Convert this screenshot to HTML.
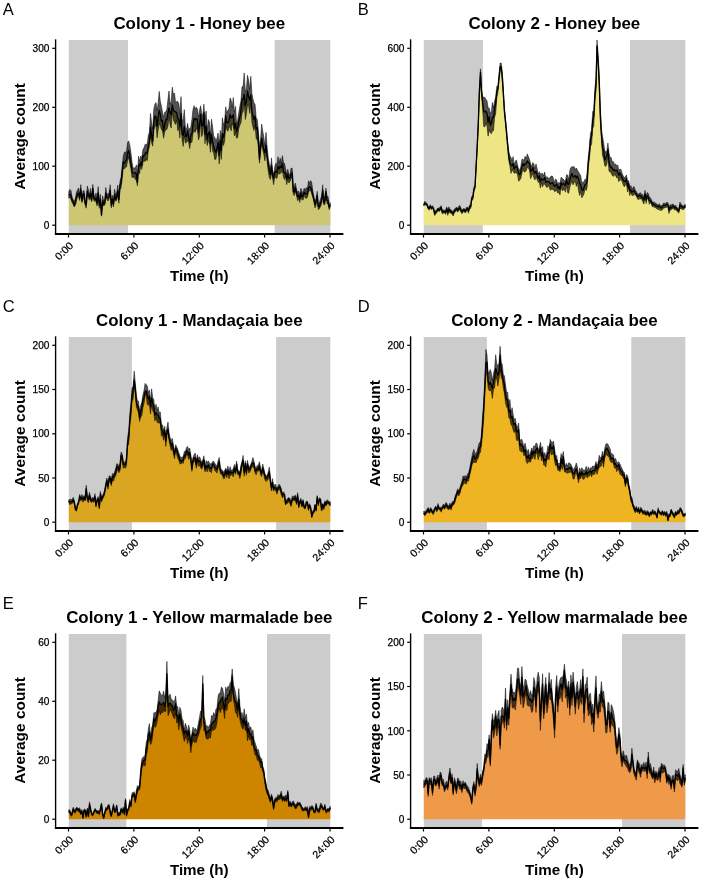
<!DOCTYPE html>
<html><head><meta charset="utf-8"><style>
html,body{margin:0;padding:0;background:#fff;}
body{width:702px;height:881px;overflow:hidden;}
svg{display:block;will-change:transform;}
text{font-family:"Liberation Sans",sans-serif;fill:#000;}
.tk{font-size:10.1px;fill:#000;stroke:#000;stroke-width:0.25px;}
.ti{font-size:16.9px;font-weight:bold;}
.ax{font-size:15.2px;font-weight:bold;}
.lb{font-size:16.5px;}
</style></head><body>
<svg width="702" height="881" viewBox="0 0 702 881">
<rect width="702" height="881" fill="#fff"/>
<rect x="68.8" y="40" width="59.2" height="193.3" fill="#cccccc"/>
<rect x="274.7" y="40" width="55.6" height="193.3" fill="#cccccc"/>
<polygon points="68.8,225.2 68.8,195 69.9,194.3 71,195.4 72.1,200.3 73.2,202 74.2,205.1 75.3,202.5 76.4,197.2 77.5,193.8 78.6,192.9 79.7,198.2 80.8,189.2 81.9,200.7 83,194.6 84.1,193.6 85.1,203 86.2,204.9 87.3,191.2 88.4,194.8 89.5,197.2 90.6,193.6 91.7,199.8 92.8,188.5 93.9,198.6 95,199.3 96,198.2 97.1,203.4 98.2,192.8 99.3,205.4 100.4,199.2 101.5,214.9 102.6,200.7 103.7,204.3 104.8,203.1 105.8,193.1 106.9,197.4 108,197.6 109.1,197 110.2,190.2 111.3,205.4 112.4,198.8 113.5,203.7 114.6,194.7 115.7,199.4 116.7,196.5 117.8,190.7 118.9,199.6 120,185 121.1,182.6 122.2,172.1 123.3,162.1 124.4,162.9 125.5,161.3 126.5,160.1 127.6,153.1 128.7,150.5 129.8,155.4 130.9,163 132,171.2 133.1,173.2 134.2,173.2 135.3,172.7 136.4,174.1 137.4,182.4 138.5,165 139.6,166.1 140.7,162.2 141.8,165.5 142.9,155.6 144,155.8 145.1,153.7 146.2,152.2 147.3,153.2 148.3,145.5 149.4,141.8 150.5,127.2 151.6,135.3 152.7,141.1 153.8,122.3 154.9,115.9 156,116.8 157.1,126.4 158.1,117.6 159.2,110.4 160.3,114 161.4,121.1 162.5,120.3 163.6,131.3 164.7,124.5 165.8,119.5 166.9,119.6 168,112.9 169,108 170.1,112.9 171.2,115 172.3,105 173.4,110.1 174.5,111.3 175.6,111.9 176.7,112.6 177.8,118.7 178.8,119 179.9,126.6 181,113.6 182.1,134.4 183.2,135.3 184.3,126.4 185.4,135.6 186.5,136.8 187.6,130.9 188.7,137.4 189.7,142.3 190.8,134.7 191.9,133.8 193,123.5 194.1,118.4 195.2,120 196.3,118.5 197.4,119.2 198.5,132.4 199.6,124.5 200.6,114.1 201.7,124.9 202.8,125.9 203.9,112.6 205,134.5 206.1,125.8 207.2,140 208.3,133.3 209.4,131.9 210.4,143.8 211.5,134.2 212.6,141.3 213.7,146.2 214.8,150.1 215.9,152.3 217,148.1 218.1,142.2 219.2,155.8 220.3,140.4 221.3,150.5 222.4,133.4 223.5,137.5 224.6,132.3 225.7,115.6 226.8,122.7 227.9,122.8 229,120.4 230.1,114.5 231.2,117.8 232.2,117.1 233.3,114.7 234.4,128.4 235.5,123.3 236.6,131.6 237.7,127.8 238.8,120.1 239.9,117.1 241,109.4 242,99.2 243.1,99.8 244.2,94.1 245.3,105.5 246.4,101 247.5,91.2 248.6,97.1 249.7,99.8 250.8,94.9 251.9,111.1 252.9,115.5 254,119.6 255.1,116.2 256.2,128.9 257.3,127.6 258.4,139.6 259.5,159.1 260.6,146.8 261.7,138.2 262.7,144.3 263.8,149.5 264.9,152.7 266,145.3 267.1,156 268.2,163.8 269.3,170.4 270.4,174.3 271.5,165.3 272.6,175.1 273.6,178.5 274.7,172.8 275.8,171.3 276.9,172.3 278,166.4 279.1,168.9 280.2,166.2 281.3,167.8 282.4,163.6 283.5,171.5 284.5,172.7 285.6,173.1 286.7,179.3 287.8,174.4 288.9,178.4 290,177.9 291.1,174.6 292.2,172.8 293.3,191.8 294.3,191.3 295.4,187.5 296.5,193 297.6,196.9 298.7,195.1 299.8,199 300.9,192.9 302,197 303.1,195.6 304.2,192.2 305.2,193.5 306.3,193.7 307.4,194.5 308.5,187.8 309.6,186.9 310.7,187.6 311.8,189.9 312.9,195.2 314,199.9 315,204.7 316.1,201.5 317.2,195.4 318.3,206.7 319.4,206.7 320.5,202.8 321.6,201.1 322.7,190.3 323.8,203 324.9,200.7 325.9,191.6 327,200.5 328.1,200.9 329.2,207.1 330.3,205 330.3,225.2" fill="#CDC673"/>
<polygon points="68.8,191.5 69.9,189.4 71,190.6 72.1,197 73.2,199.6 74.2,200.8 75.3,199.1 76.4,192.2 77.5,190.1 78.6,187.9 79.7,194.3 80.8,184.6 81.9,198.1 83,191 84.1,190.6 85.1,200 86.2,200.9 87.3,186 88.4,189.7 89.5,194.7 90.6,188.4 91.7,195.9 92.8,184.4 93.9,195.7 95,196.4 96,193 97.1,198.6 98.2,186.6 99.3,202.6 100.4,194.3 101.5,212.5 102.6,195.9 103.7,200.9 104.8,199.3 105.8,187.5 106.9,194.6 108,193.4 109.1,193.3 110.2,184.8 111.3,200.9 112.4,195.2 113.5,200.6 114.6,189.2 115.7,195 116.7,192.6 117.8,185.1 118.9,195.9 120,181.1 121.1,177.1 122.2,166.1 123.3,155.8 124.4,152.2 125.5,151.9 126.5,151.2 127.6,142.3 128.7,140.9 129.8,145.2 130.9,152.3 132,162.1 133.1,168.2 134.2,167.7 135.3,168.2 136.4,164.9 137.4,177.8 138.5,156.3 139.6,161 140.7,156 141.8,157.9 142.9,149.6 144,147.8 145.1,144.4 146.2,144.3 147.3,143.8 148.3,135.3 149.4,132.4 150.5,113.4 151.6,122.8 152.7,129.2 153.8,109.2 154.9,104.3 156,102.6 157.1,110.3 158.1,103.6 159.2,91.4 160.3,101.3 161.4,106.1 162.5,112.3 163.6,117.4 164.7,112.2 165.8,111.9 166.9,109.1 168,99.1 169,91 170.1,104.3 171.2,101.3 172.3,87.2 173.4,94.7 174.5,93 175.6,102.9 176.7,101.5 177.8,101.6 178.8,103.6 179.9,113.7 181,96.6 182.1,119.8 183.2,120.2 184.3,109.6 185.4,127.8 186.5,129.7 187.6,123.4 188.7,130.8 189.7,128.2 190.8,127.2 191.9,119.6 193,109.4 194.1,105.7 195.2,108.9 196.3,107.2 197.4,109 198.5,117.4 199.6,110.1 200.6,105.8 201.7,113.2 202.8,116 203.9,104.2 205,120 206.1,111.1 207.2,130.9 208.3,119.5 209.4,122.1 210.4,135.3 211.5,119.2 212.6,127 213.7,136.2 214.8,137.4 215.9,140.4 217,138.3 218.1,133 219.2,145.6 220.3,130.4 221.3,140.4 222.4,117.8 223.5,124.4 224.6,122.4 225.7,106.8 226.8,113.5 227.9,110.2 229,108.6 230.1,98 231.2,100.4 232.2,107.5 233.3,97.6 234.4,112.4 235.5,106.4 236.6,124.4 237.7,120.2 238.8,112.4 239.9,106.1 241,100.5 242,86.7 243.1,86.6 244.2,73 245.3,91.5 246.4,88.8 247.5,75.3 248.6,80.1 249.7,89.5 250.8,76.3 251.9,93.6 252.9,98.7 254,102.9 255.1,104.4 256.2,117.7 257.3,119.5 258.4,131.4 259.5,147.6 260.6,138.7 261.7,124 262.7,131.1 263.8,136.9 264.9,146.1 266,132.4 267.1,146.3 268.2,157.7 269.3,164.1 270.4,169.4 271.5,157.9 272.6,170.7 273.6,174 274.7,167.6 275.8,163.2 276.9,164.9 278,156.6 279.1,163.1 280.2,157.9 281.3,163.2 282.4,155.6 283.5,162.5 284.5,163.2 285.6,169 286.7,174.3 287.8,169.2 288.9,174.5 290,174.1 291.1,168 292.2,168.4 293.3,187.9 294.3,185.9 295.4,183.1 296.5,189.2 297.6,192.4 298.7,191.1 299.8,194.4 300.9,188.2 302,192.3 303.1,191.7 304.2,188.2 305.2,190.3 306.3,187.6 307.4,188.9 308.5,180.8 309.6,182.9 310.7,180.6 311.8,183.1 312.9,191.6 314,196.7 315,201.2 316.1,198.8 317.2,191.2 318.3,204.4 319.4,202.4 320.5,199.2 321.6,196 322.7,184.8 323.8,199.5 324.9,195.5 325.9,188.2 327,196.3 328.1,196.6 329.2,204.2 330.3,202.8 330.3,206.5 329.2,209.8 328.1,203.9 327,203.8 325.9,195 324.9,204.5 323.8,204.7 322.7,193.3 321.6,203.7 320.5,206.4 319.4,208.7 318.3,209.7 317.2,198.7 316.1,205.1 315,207.9 314,202.2 312.9,197.8 311.8,194.4 310.7,190.5 309.6,191.1 308.5,190.8 307.4,197.4 306.3,198.2 305.2,198 304.2,194.3 303.1,200 302,199.8 300.9,196.3 299.8,202.4 298.7,198.4 297.6,200.7 296.5,195.2 295.4,191.3 294.3,195.6 293.3,194.5 292.2,176.8 291.1,178.8 290,181.6 288.9,183 287.8,179.6 286.7,184.6 285.6,176.2 284.5,179.6 283.5,177.1 282.4,171.3 281.3,172.2 280.2,173.7 279.1,174 278,173.5 276.9,178.5 275.8,177.6 274.7,177.1 273.6,184.7 272.6,178.2 271.5,173 270.4,179.5 269.3,177.5 268.2,171.2 267.1,161 266,149.8 264.9,160.8 263.8,154.3 262.7,149.6 261.7,143.5 260.6,151.7 259.5,163.2 258.4,147.8 257.3,139 256.2,139.2 255.1,124.9 254,130.6 252.9,126.7 251.9,122.1 250.8,103.8 249.7,113.5 248.6,105.6 247.5,105 246.4,113.9 245.3,119.5 244.2,102.8 243.1,111.6 242,113.9 241,122.8 239.9,125 238.8,128.3 237.7,137.4 236.6,138.3 235.5,133.1 234.4,135.8 233.3,126 232.2,123.3 231.2,130.9 230.1,126.8 229,127.7 227.9,131.3 226.8,129.8 225.7,125.9 224.6,141.5 223.5,145.5 222.4,140.4 221.3,159.5 220.3,149.2 219.2,164 218.1,147.8 217,152.7 215.9,159.3 214.8,159.4 213.7,153.2 212.6,151.2 211.5,139.8 210.4,152.3 209.4,142.1 208.3,141.5 207.2,145.6 206.1,132.7 205,143.8 203.9,122.8 202.8,133.4 201.7,136.6 200.6,121.1 199.6,136.6 198.5,139.9 197.4,129.1 196.3,129 195.2,132.4 194.1,130.4 193,133.5 191.9,142.6 190.8,141.6 189.7,148.6 188.7,142.3 187.6,140.3 186.5,142.6 185.4,143 184.3,135.8 183.2,146.4 182.1,139.8 181,119.6 179.9,138 178.8,127.3 177.8,130.7 176.7,119.9 175.6,124.5 174.5,122.5 173.4,119.9 172.3,111.3 171.2,128 170.1,124.8 169,116.2 168,125.6 166.9,129.5 165.8,129.6 164.7,132.1 163.6,138.2 162.5,131.3 161.4,129.5 160.3,125.5 159.2,124 158.1,130.4 157.1,137.9 156,123.9 154.9,126.8 153.8,130.4 152.7,146.2 151.6,142.7 150.5,136.7 149.4,146.8 148.3,150.4 147.3,160.7 146.2,159.2 145.1,161.6 144,160.7 142.9,162.6 141.8,169.3 140.7,166.1 139.6,173.7 138.5,171 137.4,185.8 136.4,180 135.3,179.6 134.2,176.9 133.1,177.3 132,177.6 130.9,168.8 129.8,163.5 128.7,157.4 127.6,160.6 126.5,167 125.5,167.2 124.4,168.9 123.3,167.7 122.2,178.8 121.1,187.9 120,189.5 118.9,203.3 117.8,195.2 116.7,200.4 115.7,201.2 114.6,197.5 113.5,207 112.4,202.7 111.3,207.9 110.2,192.4 109.1,199.2 108,201.1 106.9,199.4 105.8,197.5 104.8,204.8 103.7,206.1 102.6,203 101.5,216.2 100.4,201.3 99.3,208.3 98.2,195.7 97.1,206.1 96,201.6 95,201.1 93.9,201 92.8,190.7 91.7,201.9 90.6,197.3 89.5,200.2 88.4,197.8 87.3,195.7 86.2,208.2 85.1,205.2 84.1,198 83,199 81.9,202.7 80.8,191.5 79.7,200.5 78.6,197.1 77.5,196.2 76.4,201.4 75.3,205.5 74.2,207 73.2,204.4 72.1,202.6 71,199.4 69.9,197.5 68.8,198.2" fill="#000" fill-opacity="0.68" stroke="#000" stroke-width="0.5"/>
<polyline points="68.8,195 69.9,194.3 71,195.4 72.1,200.3 73.2,202 74.2,205.1 75.3,202.5 76.4,197.2 77.5,193.8 78.6,192.9 79.7,198.2 80.8,189.2 81.9,200.7 83,194.6 84.1,193.6 85.1,203 86.2,204.9 87.3,191.2 88.4,194.8 89.5,197.2 90.6,193.6 91.7,199.8 92.8,188.5 93.9,198.6 95,199.3 96,198.2 97.1,203.4 98.2,192.8 99.3,205.4 100.4,199.2 101.5,214.9 102.6,200.7 103.7,204.3 104.8,203.1 105.8,193.1 106.9,197.4 108,197.6 109.1,197 110.2,190.2 111.3,205.4 112.4,198.8 113.5,203.7 114.6,194.7 115.7,199.4 116.7,196.5 117.8,190.7 118.9,199.6 120,185 121.1,182.6 122.2,172.1 123.3,162.1 124.4,162.9 125.5,161.3 126.5,160.1 127.6,153.1 128.7,150.5 129.8,155.4 130.9,163 132,171.2 133.1,173.2 134.2,173.2 135.3,172.7 136.4,174.1 137.4,182.4 138.5,165 139.6,166.1 140.7,162.2 141.8,165.5 142.9,155.6 144,155.8 145.1,153.7 146.2,152.2 147.3,153.2 148.3,145.5 149.4,141.8 150.5,127.2 151.6,135.3 152.7,141.1 153.8,122.3 154.9,115.9 156,116.8 157.1,126.4 158.1,117.6 159.2,110.4 160.3,114 161.4,121.1 162.5,120.3 163.6,131.3 164.7,124.5 165.8,119.5 166.9,119.6 168,112.9 169,108 170.1,112.9 171.2,115 172.3,105 173.4,110.1 174.5,111.3 175.6,111.9 176.7,112.6 177.8,118.7 178.8,119 179.9,126.6 181,113.6 182.1,134.4 183.2,135.3 184.3,126.4 185.4,135.6 186.5,136.8 187.6,130.9 188.7,137.4 189.7,142.3 190.8,134.7 191.9,133.8 193,123.5 194.1,118.4 195.2,120 196.3,118.5 197.4,119.2 198.5,132.4 199.6,124.5 200.6,114.1 201.7,124.9 202.8,125.9 203.9,112.6 205,134.5 206.1,125.8 207.2,140 208.3,133.3 209.4,131.9 210.4,143.8 211.5,134.2 212.6,141.3 213.7,146.2 214.8,150.1 215.9,152.3 217,148.1 218.1,142.2 219.2,155.8 220.3,140.4 221.3,150.5 222.4,133.4 223.5,137.5 224.6,132.3 225.7,115.6 226.8,122.7 227.9,122.8 229,120.4 230.1,114.5 231.2,117.8 232.2,117.1 233.3,114.7 234.4,128.4 235.5,123.3 236.6,131.6 237.7,127.8 238.8,120.1 239.9,117.1 241,109.4 242,99.2 243.1,99.8 244.2,94.1 245.3,105.5 246.4,101 247.5,91.2 248.6,97.1 249.7,99.8 250.8,94.9 251.9,111.1 252.9,115.5 254,119.6 255.1,116.2 256.2,128.9 257.3,127.6 258.4,139.6 259.5,159.1 260.6,146.8 261.7,138.2 262.7,144.3 263.8,149.5 264.9,152.7 266,145.3 267.1,156 268.2,163.8 269.3,170.4 270.4,174.3 271.5,165.3 272.6,175.1 273.6,178.5 274.7,172.8 275.8,171.3 276.9,172.3 278,166.4 279.1,168.9 280.2,166.2 281.3,167.8 282.4,163.6 283.5,171.5 284.5,172.7 285.6,173.1 286.7,179.3 287.8,174.4 288.9,178.4 290,177.9 291.1,174.6 292.2,172.8 293.3,191.8 294.3,191.3 295.4,187.5 296.5,193 297.6,196.9 298.7,195.1 299.8,199 300.9,192.9 302,197 303.1,195.6 304.2,192.2 305.2,193.5 306.3,193.7 307.4,194.5 308.5,187.8 309.6,186.9 310.7,187.6 311.8,189.9 312.9,195.2 314,199.9 315,204.7 316.1,201.5 317.2,195.4 318.3,206.7 319.4,206.7 320.5,202.8 321.6,201.1 322.7,190.3 323.8,203 324.9,200.7 325.9,191.6 327,200.5 328.1,200.9 329.2,207.1 330.3,205" fill="none" stroke="#000" stroke-width="1.3" stroke-linejoin="round"/>
<line x1="55.6" y1="39.3" x2="55.6" y2="234.7" stroke="#000" stroke-width="1.4"/>
<line x1="54.9" y1="234" x2="343.4" y2="234" stroke="#000" stroke-width="1.8"/>
<line x1="52.2" y1="225.2" x2="55.6" y2="225.2" stroke="#000" stroke-width="1.2"/>
<text x="49.4" y="228.9" text-anchor="end" class="tk">0</text>
<line x1="52.2" y1="166.2" x2="55.6" y2="166.2" stroke="#000" stroke-width="1.2"/>
<text x="49.4" y="169.9" text-anchor="end" class="tk">100</text>
<line x1="52.2" y1="107.3" x2="55.6" y2="107.3" stroke="#000" stroke-width="1.2"/>
<text x="49.4" y="111" text-anchor="end" class="tk">200</text>
<line x1="52.2" y1="48.3" x2="55.6" y2="48.3" stroke="#000" stroke-width="1.2"/>
<text x="49.4" y="52" text-anchor="end" class="tk">300</text>
<line x1="68.5" y1="234" x2="68.5" y2="237.5" stroke="#000" stroke-width="1.2"/>
<text transform="translate(73.8,246.3) rotate(-45)" text-anchor="end" class="tk" style="font-size:10.5px">0:00</text>
<line x1="133.9" y1="234" x2="133.9" y2="237.5" stroke="#000" stroke-width="1.2"/>
<text transform="translate(139.2,246.3) rotate(-45)" text-anchor="end" class="tk" style="font-size:10.5px">6:00</text>
<line x1="199.3" y1="234" x2="199.3" y2="237.5" stroke="#000" stroke-width="1.2"/>
<text transform="translate(204.6,246.3) rotate(-45)" text-anchor="end" class="tk" style="font-size:10.5px">12:00</text>
<line x1="264.6" y1="234" x2="264.6" y2="237.5" stroke="#000" stroke-width="1.2"/>
<text transform="translate(269.9,246.3) rotate(-45)" text-anchor="end" class="tk" style="font-size:10.5px">18:00</text>
<line x1="330" y1="234" x2="330" y2="237.5" stroke="#000" stroke-width="1.2"/>
<text transform="translate(335.3,246.3) rotate(-45)" text-anchor="end" class="tk" style="font-size:10.5px">24:00</text>
<text x="199.3" y="28.8" text-anchor="middle" class="ti">Colony 1 - Honey bee</text>
<text x="199.3" y="281.1" text-anchor="middle" class="ax">Time (h)</text>
<text transform="translate(25,136.4) rotate(-90)" text-anchor="middle" class="ax" style="font-size:15.45px">Average count</text>
<text x="2.8" y="14.7" class="lb">A</text>
<rect x="423.8" y="40" width="59.1" height="193.3" fill="#cccccc"/>
<rect x="630" y="40" width="55.3" height="193.3" fill="#cccccc"/>
<polygon points="423.8,225.2 423.8,205 424.9,203.2 426,204 427.1,204.6 428.2,207.9 429.2,208.5 430.3,206.1 431.4,208.6 432.5,206.9 433.6,209 434.7,213.8 435.8,211.8 436.9,210.9 438,208.9 439.1,210.5 440.1,208.9 441.2,207.5 442.3,212 443.4,211.9 444.5,211.3 445.6,212.6 446.7,208.3 447.8,213.2 448.9,209.2 450,211.4 451,211.4 452.1,212.4 453.2,213.7 454.3,211 455.4,209.8 456.5,208.5 457.6,210.6 458.7,208.7 459.8,207.8 460.8,210 461.9,211.7 463,210.4 464.1,209.5 465.2,211.7 466.3,209.8 467.4,208.6 468.5,210.9 469.6,206.5 470.7,206.9 471.7,198.3 472.8,197.8 473.9,189.7 475,187 476.1,166.8 477.2,147.1 478.3,123.5 479.4,91.8 480.5,72.3 481.5,92 482.6,101.8 483.7,111.1 484.8,112 485.9,111.3 487,113.3 488.1,122.5 489.2,116.7 490.3,125.1 491.4,123.1 492.4,117.1 493.5,117.5 494.6,108.6 495.7,102.7 496.8,91.5 497.9,89.2 499,78.1 500.1,67 501.2,66.5 502.3,76.6 503.3,92.4 504.4,110.8 505.5,121.5 506.6,133.2 507.7,145.5 508.8,156.6 509.9,162.1 511,165.1 512.1,165.3 513.1,163.7 514.2,168.9 515.3,166.6 516.4,166.1 517.5,168.3 518.6,173.2 519.7,174.7 520.8,172 521.9,166.1 523,163.5 524,166 525.1,163.9 526.2,163.8 527.3,160.9 528.4,162.6 529.5,163.3 530.6,171.5 531.7,170.5 532.8,167.4 533.8,171.4 534.9,173.1 536,171.4 537.1,174.8 538.2,178.4 539.3,175.6 540.4,181.6 541.5,178.7 542.6,179.9 543.7,179.8 544.7,177.4 545.8,182.2 546.9,181.8 548,181.2 549.1,182.1 550.2,184 551.3,183 552.4,182.5 553.5,184.4 554.6,186.4 555.6,185.1 556.7,183.8 557.8,188.5 558.9,186.5 560,189.4 561.1,182.5 562.2,184.9 563.3,183.7 564.4,184.2 565.4,185.4 566.5,179.1 567.6,184 568.7,184.3 569.8,179.6 570.9,176.1 572,173.5 573.1,177 574.2,176.5 575.3,175.6 576.3,178.2 577.4,175.9 578.5,178.9 579.6,183.2 580.7,185 581.8,189.7 582.9,190.5 584,187.4 585.1,184.5 586.2,183.8 587.2,180.2 588.3,162.4 589.4,153.1 590.5,139 591.6,135.9 592.7,120.2 593.8,115.8 594.9,96.6 596,85.2 597,46 598.1,60.5 599.2,81.5 600.3,114.3 601.4,133.7 602.5,147.4 603.6,150.9 604.7,160.1 605.8,158.2 606.9,155.5 607.9,149.3 609,162.1 610.1,166.9 611.2,167 612.3,168.4 613.4,170.4 614.5,169.9 615.6,170.9 616.7,170.1 617.7,172 618.8,175.2 619.9,173 621,175.3 622.1,177.9 623.2,179.8 624.3,181.4 625.4,181.5 626.5,178.6 627.6,186.8 628.6,183.1 629.7,190.9 630.8,190 631.9,192.3 633,191.3 634.1,190.7 635.2,193 636.3,193.6 637.4,196.3 638.5,196.6 639.5,195.2 640.6,196 641.7,197.2 642.8,198.1 643.9,200.2 645,193.8 646.1,200 647.2,195.8 648.3,196.9 649.3,200.6 650.4,200.6 651.5,202.1 652.6,204.9 653.7,204.1 654.8,205.1 655.9,205.8 657,206.3 658.1,207 659.2,206 660.2,207.2 661.3,207.9 662.4,206.9 663.5,205.4 664.6,205.7 665.7,205.4 666.8,204.1 667.9,204.8 669,210.6 670,207 671.1,208.1 672.2,206.9 673.3,206 674.4,207.7 675.5,207.4 676.6,208.8 677.7,209.7 678.8,211.1 679.9,205 680.9,206.5 682,206.8 683.1,207.9 684.2,207.4 685.3,206 685.3,225.2" fill="#EEE685"/>
<polygon points="423.8,204 424.9,201.2 426,202.8 427.1,203.5 428.2,206.8 429.2,206.8 430.3,204.7 431.4,206.7 432.5,205.8 433.6,208 434.7,211.6 435.8,210.7 436.9,209.5 438,207.9 439.1,208.4 440.1,206.8 441.2,205.7 442.3,210.7 443.4,209.8 444.5,210.2 445.6,210.9 446.7,206.9 447.8,210.8 448.9,206.8 450,209.2 451,209.8 452.1,210.6 453.2,211.9 454.3,209.1 455.4,208.4 456.5,207.1 457.6,208.5 458.7,206.4 459.8,205.3 460.8,207.8 461.9,209.7 463,209.2 464.1,208.3 465.2,210.4 466.3,207.6 467.4,207 468.5,209.1 469.6,205.1 470.7,205.4 471.7,196.6 472.8,195.7 473.9,187 475,185.7 476.1,165.2 477.2,144.3 478.3,120.9 479.4,88.2 480.5,68.9 481.5,88.8 482.6,96.1 483.7,97.5 484.8,97.2 485.9,99.3 487,100.7 488.1,108.2 489.2,107.9 490.3,113.4 491.4,111.5 492.4,102.4 493.5,108 494.6,100.7 495.7,96.8 496.8,86.3 497.9,86.6 499,74.8 500.1,63 501.2,63 502.3,72.7 503.3,89 504.4,106.9 505.5,118.5 506.6,129.5 507.7,141.8 508.8,151.3 509.9,155.7 511,157.4 512.1,160.9 513.1,156.6 514.2,165.3 515.3,161.2 516.4,159.9 517.5,164.7 518.6,169.5 519.7,170.1 520.8,166.9 521.9,159.4 523,159.2 524,160.7 525.1,156.3 526.2,158.9 527.3,153.9 528.4,156.5 529.5,159.6 530.6,163.7 531.7,166.7 532.8,162.5 533.8,163.8 534.9,168.7 536,163.9 537.1,168.6 538.2,174.2 539.3,171.7 540.4,174 541.5,173.5 542.6,173.5 543.7,176 544.7,172 545.8,178.6 546.9,176.5 548,178 549.1,178.7 550.2,177 551.3,176.1 552.4,176.1 553.5,179 554.6,182.6 555.6,178.9 556.7,179.9 557.8,185.2 558.9,182.2 560,184 561.1,177.1 562.2,178.5 563.3,179.1 564.4,180.6 565.4,182.3 566.5,174.7 567.6,175.1 568.7,179.6 569.8,170.5 570.9,167.5 572,166.8 573.1,166.8 574.2,166.8 575.3,169.8 576.3,168 577.4,169.9 578.5,171.9 579.6,173.7 580.7,175.6 581.8,182.2 582.9,182.6 584,181.6 585.1,179 586.2,179.7 587.2,171.9 588.3,157.1 589.4,147 590.5,133 591.6,130.3 592.7,111.4 593.8,110.9 594.9,87.6 596,78.1 597,40 598.1,53.9 599.2,73.8 600.3,106.5 601.4,128.4 602.5,136.5 603.6,142.4 604.7,150 605.8,152.6 606.9,150.8 607.9,143 609,153 610.1,157.7 611.2,157.5 612.3,162.1 613.4,161.5 614.5,164.8 615.6,163.9 616.7,166 617.7,164.9 618.8,170 619.9,169.3 621,169.4 622.1,173.3 623.2,175.8 624.3,177.6 625.4,176.7 626.5,175 627.6,181.9 628.6,180.5 629.7,187.6 630.8,185.5 631.9,188.7 633,187.4 634.1,186.6 635.2,189.8 636.3,191.5 637.4,193.7 638.5,194.2 639.5,193 640.6,192.8 641.7,195 642.8,194.4 643.9,197.5 645,190.3 646.1,196.5 647.2,192.6 648.3,193.4 649.3,197.3 650.4,197.7 651.5,199.8 652.6,202.4 653.7,201.9 654.8,202.5 655.9,203.4 657,204.1 658.1,205.3 659.2,203.7 660.2,205.4 661.3,205.7 662.4,205.2 663.5,203.1 664.6,203.2 665.7,203.8 666.8,202.2 667.9,202.6 669,208.7 670,204.6 671.1,205.3 672.2,204.1 673.3,204.3 674.4,206 675.5,205.1 676.6,206.9 677.7,208.3 678.8,209.4 679.9,202.1 680.9,203.7 682,205 683.1,206.6 684.2,204.9 685.3,204.4 685.3,207.6 684.2,208.8 683.1,210 682,208.9 680.9,209 679.9,207.9 678.8,213.1 677.7,212 676.6,210.7 675.5,209.8 674.4,209.9 673.3,208.2 672.2,208.9 671.1,209.9 670,209.8 669,213.5 667.9,206.6 666.8,207.3 665.7,207.4 664.6,207.9 663.5,208 662.4,209.9 661.3,210.2 660.2,210.6 659.2,209.5 658.1,209.4 657,209.1 655.9,207.8 654.8,207.6 653.7,206.7 652.6,207 651.5,204.6 650.4,202.2 649.3,204.3 648.3,199.6 647.2,198.6 646.1,203.5 645,196.3 643.9,204.1 642.8,201.8 641.7,199 640.6,198.9 639.5,198.7 638.5,199.9 637.4,198.8 636.3,196 635.2,195.1 634.1,194.5 633,195.5 631.9,195.4 630.8,192.4 629.7,195.6 628.6,187.3 627.6,192.1 626.5,183.6 625.4,185 624.3,186.8 623.2,184.7 622.1,181.6 621,179.6 619.9,180.1 618.8,181.7 617.7,177 616.7,177.9 615.6,175.5 614.5,174.8 613.4,176.5 612.3,175.5 611.2,173.2 610.1,171.7 609,171.3 607.9,156.5 606.9,163.9 605.8,166.4 604.7,165.6 603.6,158.6 602.5,155.5 601.4,138.5 600.3,121.5 599.2,85.1 598.1,66.9 597,46.7 596,89.7 594.9,101 593.8,126.1 592.7,128.4 591.6,144.3 590.5,146.4 589.4,158.7 588.3,167.2 587.2,187 586.2,190.5 585.1,188.3 584,193.9 582.9,195.9 581.8,197.9 580.7,191.6 579.6,195.5 578.5,190.4 577.4,182.6 576.3,186.5 575.3,181.2 574.2,182.2 573.1,184.9 572,181.8 570.9,183.7 569.8,187.2 568.7,193.2 567.6,192.6 566.5,185.2 565.4,192.2 564.4,189.1 563.3,190.2 562.2,190.7 561.1,186.3 560,194.9 558.9,192.4 557.8,193.1 556.7,190.7 555.6,190.9 554.6,191.7 553.5,189.6 552.4,189.4 551.3,189.4 550.2,190.2 549.1,185.8 548,186.6 546.9,187.7 545.8,186 544.7,184.2 543.7,183.8 542.6,186.9 541.5,182.8 540.4,188.1 539.3,182 538.2,182.3 537.1,179.6 536,176.7 534.9,180 533.8,177.8 532.8,173.3 531.7,175.9 530.6,178.7 529.5,170.5 528.4,167.8 527.3,167.5 526.2,170.7 525.1,171.9 524,171.9 523,168.1 521.9,173.7 520.8,178.5 519.7,180.2 518.6,181.2 517.5,174.4 516.4,172.7 515.3,172.9 514.2,173.3 513.1,171.3 512.1,169.7 511,173.5 509.9,166.3 508.8,160.7 507.7,147.8 506.6,135.9 505.5,124 504.4,113 503.3,95.2 502.3,81.5 501.2,69.9 500.1,71.5 499,80.6 497.9,92.6 496.8,98.4 495.7,113.9 494.6,117.2 493.5,130.7 492.4,131 491.4,133.7 490.3,132.8 489.2,129.7 488.1,136.2 487,126 485.9,123 484.8,126.9 483.7,126.4 482.6,108.7 481.5,95.2 480.5,75.8 479.4,93.6 478.3,125.8 477.2,148.4 476.1,169.2 475,188.4 473.9,191.6 472.8,200 471.7,200.4 470.7,208.4 469.6,208.9 468.5,213.3 467.4,210.1 466.3,211.6 465.2,213.1 464.1,211.3 463,212.4 461.9,213.8 460.8,211.9 459.8,209.5 458.7,210.9 457.6,212.2 456.5,209.8 455.4,212.1 454.3,212.8 453.2,216.1 452.1,214.4 451,213 450,213.2 448.9,211.3 447.8,215.4 446.7,209.4 445.6,214.5 444.5,212.9 443.4,213.1 442.3,214 441.2,209.4 440.1,210.8 439.1,211.6 438,210.6 436.9,212.5 435.8,213.9 434.7,215.5 433.6,210.7 432.5,208.3 431.4,209.6 430.3,207.2 429.2,210.3 428.2,209 427.1,206.6 426,205.1 424.9,204.4 423.8,206" fill="#000" fill-opacity="0.68" stroke="#000" stroke-width="0.5"/>
<polyline points="423.8,205 424.9,203.2 426,204 427.1,204.6 428.2,207.9 429.2,208.5 430.3,206.1 431.4,208.6 432.5,206.9 433.6,209 434.7,213.8 435.8,211.8 436.9,210.9 438,208.9 439.1,210.5 440.1,208.9 441.2,207.5 442.3,212 443.4,211.9 444.5,211.3 445.6,212.6 446.7,208.3 447.8,213.2 448.9,209.2 450,211.4 451,211.4 452.1,212.4 453.2,213.7 454.3,211 455.4,209.8 456.5,208.5 457.6,210.6 458.7,208.7 459.8,207.8 460.8,210 461.9,211.7 463,210.4 464.1,209.5 465.2,211.7 466.3,209.8 467.4,208.6 468.5,210.9 469.6,206.5 470.7,206.9 471.7,198.3 472.8,197.8 473.9,189.7 475,187 476.1,166.8 477.2,147.1 478.3,123.5 479.4,91.8 480.5,72.3 481.5,92 482.6,101.8 483.7,111.1 484.8,112 485.9,111.3 487,113.3 488.1,122.5 489.2,116.7 490.3,125.1 491.4,123.1 492.4,117.1 493.5,117.5 494.6,108.6 495.7,102.7 496.8,91.5 497.9,89.2 499,78.1 500.1,67 501.2,66.5 502.3,76.6 503.3,92.4 504.4,110.8 505.5,121.5 506.6,133.2 507.7,145.5 508.8,156.6 509.9,162.1 511,165.1 512.1,165.3 513.1,163.7 514.2,168.9 515.3,166.6 516.4,166.1 517.5,168.3 518.6,173.2 519.7,174.7 520.8,172 521.9,166.1 523,163.5 524,166 525.1,163.9 526.2,163.8 527.3,160.9 528.4,162.6 529.5,163.3 530.6,171.5 531.7,170.5 532.8,167.4 533.8,171.4 534.9,173.1 536,171.4 537.1,174.8 538.2,178.4 539.3,175.6 540.4,181.6 541.5,178.7 542.6,179.9 543.7,179.8 544.7,177.4 545.8,182.2 546.9,181.8 548,181.2 549.1,182.1 550.2,184 551.3,183 552.4,182.5 553.5,184.4 554.6,186.4 555.6,185.1 556.7,183.8 557.8,188.5 558.9,186.5 560,189.4 561.1,182.5 562.2,184.9 563.3,183.7 564.4,184.2 565.4,185.4 566.5,179.1 567.6,184 568.7,184.3 569.8,179.6 570.9,176.1 572,173.5 573.1,177 574.2,176.5 575.3,175.6 576.3,178.2 577.4,175.9 578.5,178.9 579.6,183.2 580.7,185 581.8,189.7 582.9,190.5 584,187.4 585.1,184.5 586.2,183.8 587.2,180.2 588.3,162.4 589.4,153.1 590.5,139 591.6,135.9 592.7,120.2 593.8,115.8 594.9,96.6 596,85.2 597,46 598.1,60.5 599.2,81.5 600.3,114.3 601.4,133.7 602.5,147.4 603.6,150.9 604.7,160.1 605.8,158.2 606.9,155.5 607.9,149.3 609,162.1 610.1,166.9 611.2,167 612.3,168.4 613.4,170.4 614.5,169.9 615.6,170.9 616.7,170.1 617.7,172 618.8,175.2 619.9,173 621,175.3 622.1,177.9 623.2,179.8 624.3,181.4 625.4,181.5 626.5,178.6 627.6,186.8 628.6,183.1 629.7,190.9 630.8,190 631.9,192.3 633,191.3 634.1,190.7 635.2,193 636.3,193.6 637.4,196.3 638.5,196.6 639.5,195.2 640.6,196 641.7,197.2 642.8,198.1 643.9,200.2 645,193.8 646.1,200 647.2,195.8 648.3,196.9 649.3,200.6 650.4,200.6 651.5,202.1 652.6,204.9 653.7,204.1 654.8,205.1 655.9,205.8 657,206.3 658.1,207 659.2,206 660.2,207.2 661.3,207.9 662.4,206.9 663.5,205.4 664.6,205.7 665.7,205.4 666.8,204.1 667.9,204.8 669,210.6 670,207 671.1,208.1 672.2,206.9 673.3,206 674.4,207.7 675.5,207.4 676.6,208.8 677.7,209.7 678.8,211.1 679.9,205 680.9,206.5 682,206.8 683.1,207.9 684.2,207.4 685.3,206" fill="none" stroke="#000" stroke-width="1.3" stroke-linejoin="round"/>
<line x1="410.6" y1="39.3" x2="410.6" y2="234.7" stroke="#000" stroke-width="1.4"/>
<line x1="409.9" y1="234" x2="698.4" y2="234" stroke="#000" stroke-width="1.8"/>
<line x1="407.2" y1="225.2" x2="410.6" y2="225.2" stroke="#000" stroke-width="1.2"/>
<text x="404.4" y="228.9" text-anchor="end" class="tk">0</text>
<line x1="407.2" y1="166.2" x2="410.6" y2="166.2" stroke="#000" stroke-width="1.2"/>
<text x="404.4" y="169.9" text-anchor="end" class="tk">200</text>
<line x1="407.2" y1="107.3" x2="410.6" y2="107.3" stroke="#000" stroke-width="1.2"/>
<text x="404.4" y="111" text-anchor="end" class="tk">400</text>
<line x1="407.2" y1="48.3" x2="410.6" y2="48.3" stroke="#000" stroke-width="1.2"/>
<text x="404.4" y="52" text-anchor="end" class="tk">600</text>
<line x1="423.5" y1="234" x2="423.5" y2="237.5" stroke="#000" stroke-width="1.2"/>
<text transform="translate(428.8,246.3) rotate(-45)" text-anchor="end" class="tk" style="font-size:10.5px">0:00</text>
<line x1="488.9" y1="234" x2="488.9" y2="237.5" stroke="#000" stroke-width="1.2"/>
<text transform="translate(494.2,246.3) rotate(-45)" text-anchor="end" class="tk" style="font-size:10.5px">6:00</text>
<line x1="554.3" y1="234" x2="554.3" y2="237.5" stroke="#000" stroke-width="1.2"/>
<text transform="translate(559.6,246.3) rotate(-45)" text-anchor="end" class="tk" style="font-size:10.5px">12:00</text>
<line x1="619.6" y1="234" x2="619.6" y2="237.5" stroke="#000" stroke-width="1.2"/>
<text transform="translate(624.9,246.3) rotate(-45)" text-anchor="end" class="tk" style="font-size:10.5px">18:00</text>
<line x1="685" y1="234" x2="685" y2="237.5" stroke="#000" stroke-width="1.2"/>
<text transform="translate(690.3,246.3) rotate(-45)" text-anchor="end" class="tk" style="font-size:10.5px">24:00</text>
<text x="554.4" y="28.8" text-anchor="middle" class="ti">Colony 2 - Honey bee</text>
<text x="554.4" y="281.1" text-anchor="middle" class="ax">Time (h)</text>
<text transform="translate(380,136.4) rotate(-90)" text-anchor="middle" class="ax" style="font-size:15.45px">Average count</text>
<text x="357.8" y="14.7" class="lb">B</text>
<rect x="68.8" y="337" width="63.1" height="193.3" fill="#cccccc"/>
<rect x="276.1" y="337" width="54.2" height="193.3" fill="#cccccc"/>
<polygon points="68.8,522.2 68.8,501 69.9,502.2 71,501.9 72.1,501.4 73.2,499.6 74.2,501.8 75.3,508.1 76.4,510 77.5,504.7 78.6,502.5 79.7,496.5 80.8,499.2 81.9,497.2 83,499.3 84.1,497.5 85.1,499.7 86.2,488.7 87.3,498 88.4,500 89.5,495.1 90.6,499.5 91.7,500.5 92.8,499.7 93.9,499.9 95,496.5 96,505.4 97.1,500.1 98.2,498.8 99.3,507.4 100.4,493.8 101.5,499.9 102.6,496.6 103.7,495.1 104.8,490.9 105.8,485.6 106.9,480.5 108,486.7 109.1,478.6 110.2,478 111.3,483.4 112.4,476.7 113.5,477.1 114.6,474.7 115.7,472.5 116.7,467.5 117.8,466.4 118.9,470.1 120,467.4 121.1,455.2 122.2,456.5 123.3,464.3 124.4,464.4 125.5,465 126.5,459.9 127.6,443 128.7,437.9 129.8,421.4 130.9,409.5 132,395.8 133.1,390.7 134.2,380.2 135.3,388.8 136.4,402.5 137.4,406.1 138.5,407.1 139.6,417.8 140.7,412.1 141.8,407.6 142.9,399.9 144,397.5 145.1,391.8 146.2,390.9 147.3,395.2 148.3,398.9 149.4,396.2 150.5,406.5 151.6,397.8 152.7,403.1 153.8,406.2 154.9,415.1 156,412.4 157.1,414.4 158.1,414.8 159.2,417.7 160.3,418.9 161.4,429.3 162.5,430.9 163.6,434.5 164.7,430.1 165.8,441.3 166.9,431.1 168,429 169,437.4 170.1,441.5 171.2,446.2 172.3,443 173.4,449.6 174.5,454.7 175.6,448 176.7,449.8 177.8,453.4 178.8,456.4 179.9,460 181,461.5 182.1,460.2 183.2,460.5 184.3,454.9 185.4,456 186.5,450.5 187.6,451.5 188.7,455.3 189.7,452.4 190.8,458.1 191.9,468.9 193,460 194.1,457.6 195.2,457.9 196.3,464.9 197.4,458.2 198.5,461.3 199.6,460.9 200.6,462.7 201.7,466.8 202.8,462.3 203.9,459.7 205,469.1 206.1,465.5 207.2,467.3 208.3,464.7 209.4,467 210.4,468.3 211.5,468.4 212.6,463.9 213.7,464.4 214.8,467.5 215.9,467.7 217,469.3 218.1,465.7 219.2,461.1 220.3,470.4 221.3,472.2 222.4,472.4 223.5,476.3 224.6,474.4 225.7,470.5 226.8,474.4 227.9,470.5 229,474.3 230.1,471.1 231.2,472.5 232.2,472.5 233.3,472.7 234.4,468 235.5,472.2 236.6,464 237.7,472.1 238.8,472.8 239.9,475.1 241,468.5 242,463.9 243.1,459.9 244.2,472.7 245.3,463.4 246.4,472.4 247.5,463.6 248.6,469.1 249.7,469.7 250.8,466.8 251.9,463.9 252.9,462.6 254,463.6 255.1,471 256.2,470.4 257.3,468.2 258.4,469.2 259.5,465.3 260.6,471.3 261.7,473.1 262.7,467.7 263.8,471.7 264.9,475.8 266,478.4 267.1,478 268.2,475.3 269.3,471.7 270.4,480.9 271.5,488.2 272.6,482.3 273.6,489 274.7,487.3 275.8,487.8 276.9,491.2 278,488.6 279.1,486.8 280.2,487.5 281.3,492.2 282.4,495 283.5,494.2 284.5,494.8 285.6,503.8 286.7,501.4 287.8,500.8 288.9,498.7 290,501 291.1,504.5 292.2,498.8 293.3,498.6 294.3,498.9 295.4,496.8 296.5,503 297.6,495.1 298.7,506.1 299.8,501.8 300.9,500.5 302,505.8 303.1,501.2 304.2,507.3 305.2,507.7 306.3,502.8 307.4,502.5 308.5,508.7 309.6,505.1 310.7,508.1 311.8,516.7 312.9,512.1 314,511.6 315,505.3 316.1,510.2 317.2,497.1 318.3,503.7 319.4,499.4 320.5,499.8 321.6,510 322.7,504.7 323.8,507.8 324.9,502.5 325.9,504.6 327,502.1 328.1,502 329.2,503.6 330.3,504 330.3,522.2" fill="#DAA520"/>
<polygon points="68.8,499.8 69.9,499.6 71,499.4 72.1,499.9 73.2,497.2 74.2,500.5 75.3,506.3 76.4,508.7 77.5,503.6 78.6,500.9 79.7,494.3 80.8,497.9 81.9,494.5 83,497.4 84.1,495.4 85.1,496.9 86.2,485.3 87.3,495.6 88.4,497.6 89.5,492.3 90.6,497.3 91.7,498.4 92.8,497.1 93.9,498.5 95,493.6 96,504 97.1,498.5 98.2,496.6 99.3,505.6 100.4,491.4 101.5,497.3 102.6,495.3 103.7,493.5 104.8,489.1 105.8,482.9 106.9,478 108,483.8 109.1,475.8 110.2,476.1 111.3,480 112.4,473.6 113.5,474.3 114.6,472.1 115.7,468.3 116.7,463.7 117.8,464 118.9,467 120,462.6 121.1,451.9 122.2,453.8 123.3,461.9 124.4,462 125.5,462.7 126.5,456.2 127.6,437 128.7,431.3 129.8,414 130.9,404 132,388.1 133.1,386.2 134.2,371.2 135.3,383 136.4,395.3 137.4,400.9 138.5,401 139.6,412.2 140.7,405.6 141.8,402.3 142.9,395 144,390.5 145.1,383.4 146.2,384.6 147.3,386 148.3,392.7 149.4,390.1 150.5,400.9 151.6,388.8 152.7,397.7 153.8,399.4 154.9,409.2 156,404.2 157.1,410.7 158.1,406.8 159.2,412.7 160.3,411.9 161.4,425.3 162.5,424.9 163.6,430.2 164.7,426.3 165.8,437.8 166.9,427.3 168,422.1 169,432.7 170.1,437.5 171.2,440.7 172.3,438.3 173.4,444.8 174.5,451.4 175.6,444.7 176.7,446.8 177.8,449.8 178.8,452.7 179.9,455.8 181,458.1 182.1,456.7 183.2,457.7 184.3,451.2 185.4,451.9 186.5,447.5 187.6,446.4 188.7,449.9 189.7,448 190.8,454.8 191.9,464.2 193,457.4 194.1,454.7 195.2,453.1 196.3,460.4 197.4,454.7 198.5,458.8 199.6,456.7 200.6,459.5 201.7,462.3 202.8,459.9 203.9,455.8 205,466.7 206.1,460.6 207.2,462.5 208.3,460.9 209.4,463 210.4,463.8 211.5,463.8 212.6,461.4 213.7,461.3 214.8,463.2 215.9,464.8 217,466.1 218.1,460.8 219.2,457.4 220.3,466.9 221.3,469.6 222.4,470.1 223.5,472.3 224.6,470.6 225.7,468.2 226.8,470.2 227.9,466.1 229,471.6 230.1,466.7 231.2,470.2 232.2,469.9 233.3,468.5 234.4,464.5 235.5,469.2 236.6,461 237.7,469.6 238.8,470.4 239.9,472.1 241,465.1 242,461.4 243.1,455.4 244.2,470.6 245.3,460.8 246.4,468.1 247.5,460.3 248.6,466.7 249.7,466.6 250.8,464.2 251.9,461.3 252.9,457.5 254,461.2 255.1,467 256.2,467.2 257.3,465.5 258.4,464.7 259.5,461.7 260.6,469.2 261.7,470.2 262.7,464 263.8,468.6 264.9,473.2 266,475.8 267.1,475.5 268.2,472.3 269.3,467.1 270.4,477.1 271.5,485.6 272.6,478.6 273.6,487.2 274.7,484.5 275.8,484.6 276.9,489.3 278,486 279.1,484.2 280.2,485.7 281.3,489 282.4,493 283.5,491.8 284.5,493.4 285.6,502 286.7,499.6 287.8,498.2 288.9,497.4 290,498.5 291.1,503.2 292.2,496.2 293.3,496.1 294.3,496.7 295.4,494.9 296.5,501.2 297.6,492.6 298.7,504.5 299.8,500.5 300.9,498.2 302,503.8 303.1,499.6 304.2,506 305.2,505.5 306.3,501.1 307.4,501.3 308.5,506.6 309.6,503.7 310.7,506.6 311.8,515.4 312.9,510.7 314,510.4 315,504 316.1,508.6 317.2,495.6 318.3,501.3 319.4,497.8 320.5,498.4 321.6,508.9 322.7,503.4 323.8,505.6 324.9,500.8 325.9,502.5 327,499.7 328.1,500.7 329.2,501.6 330.3,501.7 330.3,506 329.2,504.8 328.1,503.2 327,504 325.9,506.2 324.9,503.7 323.8,509.7 322.7,507 321.6,511 320.5,501.6 319.4,501.5 318.3,506 317.2,498.8 316.1,511.3 315,507.3 314,512.6 312.9,514.1 311.8,517.7 310.7,510.2 309.6,506.8 308.5,510.6 307.4,504.1 306.3,504.6 305.2,509 304.2,508.7 303.1,503 302,507 300.9,502.5 299.8,504.4 298.7,508 297.6,497.3 296.5,504.6 295.4,498.9 294.3,501 293.3,500.2 292.2,501.3 291.1,506.5 290,503.7 288.9,500.8 287.8,503.3 286.7,503.1 285.6,505 284.5,497.6 283.5,495.9 282.4,497.9 281.3,494.7 280.2,490.5 279.1,489.4 278,490.8 276.9,494.2 275.8,490.7 274.7,489.3 273.6,491.2 272.6,486.2 271.5,491 270.4,483.4 269.3,473.9 268.2,479.4 267.1,480.3 266,481.6 264.9,479.7 263.8,474.7 262.7,471.6 261.7,476.5 260.6,475 259.5,468.8 258.4,471.3 257.3,470.9 256.2,474.8 255.1,473.3 254,467.2 252.9,467.3 251.9,466.4 250.8,469.7 249.7,472.3 248.6,472.7 247.5,466.8 246.4,475.2 245.3,468.1 244.2,476.3 243.1,464.8 242,466.6 241,473.2 239.9,478.5 238.8,474.9 237.7,474.5 236.6,467.9 235.5,474.4 234.4,470.9 233.3,476.9 232.2,475 231.2,474.9 230.1,475.4 229,478.7 227.9,472.9 226.8,477.7 225.7,473.3 224.6,478.5 223.5,478.8 222.4,474.7 221.3,474.6 220.3,473.5 219.2,465.2 218.1,468.7 217,473.1 215.9,471.4 214.8,470.7 213.7,466.7 212.6,466.1 211.5,472.8 210.4,471.4 209.4,471.4 208.3,466.9 207.2,471.9 206.1,467.7 205,472 203.9,463.5 202.8,466.5 201.7,469.3 200.6,467.6 199.6,465.2 198.5,466.3 197.4,461.7 196.3,468.2 195.2,461.9 194.1,461.3 193,463.3 191.9,471.4 190.8,462 189.7,457.3 188.7,459.4 187.6,455.6 186.5,454.2 185.4,458.8 184.3,458.7 183.2,463.5 182.1,462.5 181,464.1 179.9,463.7 178.8,460.1 177.8,458.4 176.7,454.6 175.6,451 174.5,458.7 173.4,453.7 172.3,447.4 171.2,450.5 170.1,445.4 169,440.3 168,432.3 166.9,435.4 165.8,446.3 164.7,434.2 163.6,440.3 162.5,435.1 161.4,436.2 160.3,423.2 159.2,422.9 158.1,422.9 157.1,422.1 156,418.1 154.9,420.9 153.8,412.7 152.7,410.7 151.6,405 150.5,413.9 149.4,403.4 148.3,405.2 147.3,404.6 146.2,395.3 145.1,396 144,403.6 142.9,407.5 141.8,415.6 140.7,417 139.6,421.4 138.5,412.7 137.4,409.9 136.4,406.8 135.3,394 134.2,386 133.1,398.7 132,401.8 130.9,417.1 129.8,424.9 128.7,444.2 127.6,446 126.5,465.1 125.5,468.2 124.4,467.2 123.3,468.4 122.2,460.2 121.1,460.1 120,471 118.9,472.8 117.8,469.8 116.7,471.5 115.7,475.9 114.6,477.5 113.5,481.2 112.4,479.7 111.3,485.6 110.2,481.9 109.1,480.8 108,489.3 106.9,482.9 105.8,487.7 104.8,493.8 103.7,497.1 102.6,499.1 101.5,502.1 100.4,496.9 99.3,508.8 98.2,500.4 97.1,501.3 96,507.1 95,498.8 93.9,502.6 92.8,500.9 91.7,502.6 90.6,501.9 89.5,497.9 88.4,502.7 87.3,500.9 86.2,491.5 85.1,501 84.1,499.1 83,502.2 81.9,499.8 80.8,500.8 79.7,498.4 78.6,503.7 77.5,506.6 76.4,511.2 75.3,510.3 74.2,503.2 73.2,502.4 72.1,503.4 71,503.9 69.9,504.7 68.8,502.5" fill="#000" fill-opacity="0.68" stroke="#000" stroke-width="0.5"/>
<polyline points="68.8,501 69.9,502.2 71,501.9 72.1,501.4 73.2,499.6 74.2,501.8 75.3,508.1 76.4,510 77.5,504.7 78.6,502.5 79.7,496.5 80.8,499.2 81.9,497.2 83,499.3 84.1,497.5 85.1,499.7 86.2,488.7 87.3,498 88.4,500 89.5,495.1 90.6,499.5 91.7,500.5 92.8,499.7 93.9,499.9 95,496.5 96,505.4 97.1,500.1 98.2,498.8 99.3,507.4 100.4,493.8 101.5,499.9 102.6,496.6 103.7,495.1 104.8,490.9 105.8,485.6 106.9,480.5 108,486.7 109.1,478.6 110.2,478 111.3,483.4 112.4,476.7 113.5,477.1 114.6,474.7 115.7,472.5 116.7,467.5 117.8,466.4 118.9,470.1 120,467.4 121.1,455.2 122.2,456.5 123.3,464.3 124.4,464.4 125.5,465 126.5,459.9 127.6,443 128.7,437.9 129.8,421.4 130.9,409.5 132,395.8 133.1,390.7 134.2,380.2 135.3,388.8 136.4,402.5 137.4,406.1 138.5,407.1 139.6,417.8 140.7,412.1 141.8,407.6 142.9,399.9 144,397.5 145.1,391.8 146.2,390.9 147.3,395.2 148.3,398.9 149.4,396.2 150.5,406.5 151.6,397.8 152.7,403.1 153.8,406.2 154.9,415.1 156,412.4 157.1,414.4 158.1,414.8 159.2,417.7 160.3,418.9 161.4,429.3 162.5,430.9 163.6,434.5 164.7,430.1 165.8,441.3 166.9,431.1 168,429 169,437.4 170.1,441.5 171.2,446.2 172.3,443 173.4,449.6 174.5,454.7 175.6,448 176.7,449.8 177.8,453.4 178.8,456.4 179.9,460 181,461.5 182.1,460.2 183.2,460.5 184.3,454.9 185.4,456 186.5,450.5 187.6,451.5 188.7,455.3 189.7,452.4 190.8,458.1 191.9,468.9 193,460 194.1,457.6 195.2,457.9 196.3,464.9 197.4,458.2 198.5,461.3 199.6,460.9 200.6,462.7 201.7,466.8 202.8,462.3 203.9,459.7 205,469.1 206.1,465.5 207.2,467.3 208.3,464.7 209.4,467 210.4,468.3 211.5,468.4 212.6,463.9 213.7,464.4 214.8,467.5 215.9,467.7 217,469.3 218.1,465.7 219.2,461.1 220.3,470.4 221.3,472.2 222.4,472.4 223.5,476.3 224.6,474.4 225.7,470.5 226.8,474.4 227.9,470.5 229,474.3 230.1,471.1 231.2,472.5 232.2,472.5 233.3,472.7 234.4,468 235.5,472.2 236.6,464 237.7,472.1 238.8,472.8 239.9,475.1 241,468.5 242,463.9 243.1,459.9 244.2,472.7 245.3,463.4 246.4,472.4 247.5,463.6 248.6,469.1 249.7,469.7 250.8,466.8 251.9,463.9 252.9,462.6 254,463.6 255.1,471 256.2,470.4 257.3,468.2 258.4,469.2 259.5,465.3 260.6,471.3 261.7,473.1 262.7,467.7 263.8,471.7 264.9,475.8 266,478.4 267.1,478 268.2,475.3 269.3,471.7 270.4,480.9 271.5,488.2 272.6,482.3 273.6,489 274.7,487.3 275.8,487.8 276.9,491.2 278,488.6 279.1,486.8 280.2,487.5 281.3,492.2 282.4,495 283.5,494.2 284.5,494.8 285.6,503.8 286.7,501.4 287.8,500.8 288.9,498.7 290,501 291.1,504.5 292.2,498.8 293.3,498.6 294.3,498.9 295.4,496.8 296.5,503 297.6,495.1 298.7,506.1 299.8,501.8 300.9,500.5 302,505.8 303.1,501.2 304.2,507.3 305.2,507.7 306.3,502.8 307.4,502.5 308.5,508.7 309.6,505.1 310.7,508.1 311.8,516.7 312.9,512.1 314,511.6 315,505.3 316.1,510.2 317.2,497.1 318.3,503.7 319.4,499.4 320.5,499.8 321.6,510 322.7,504.7 323.8,507.8 324.9,502.5 325.9,504.6 327,502.1 328.1,502 329.2,503.6 330.3,504" fill="none" stroke="#000" stroke-width="1.3" stroke-linejoin="round"/>
<line x1="55.6" y1="336.3" x2="55.6" y2="531.7" stroke="#000" stroke-width="1.4"/>
<line x1="54.9" y1="531" x2="343.4" y2="531" stroke="#000" stroke-width="1.8"/>
<line x1="52.2" y1="522.2" x2="55.6" y2="522.2" stroke="#000" stroke-width="1.2"/>
<text x="49.4" y="525.9" text-anchor="end" class="tk">0</text>
<line x1="52.2" y1="478" x2="55.6" y2="478" stroke="#000" stroke-width="1.2"/>
<text x="49.4" y="481.7" text-anchor="end" class="tk">50</text>
<line x1="52.2" y1="433.8" x2="55.6" y2="433.8" stroke="#000" stroke-width="1.2"/>
<text x="49.4" y="437.4" text-anchor="end" class="tk">100</text>
<line x1="52.2" y1="389.5" x2="55.6" y2="389.5" stroke="#000" stroke-width="1.2"/>
<text x="49.4" y="393.2" text-anchor="end" class="tk">150</text>
<line x1="52.2" y1="345.3" x2="55.6" y2="345.3" stroke="#000" stroke-width="1.2"/>
<text x="49.4" y="349" text-anchor="end" class="tk">200</text>
<line x1="68.5" y1="531" x2="68.5" y2="534.5" stroke="#000" stroke-width="1.2"/>
<text transform="translate(73.8,543.3) rotate(-45)" text-anchor="end" class="tk" style="font-size:10.5px">0:00</text>
<line x1="133.9" y1="531" x2="133.9" y2="534.5" stroke="#000" stroke-width="1.2"/>
<text transform="translate(139.2,543.3) rotate(-45)" text-anchor="end" class="tk" style="font-size:10.5px">6:00</text>
<line x1="199.3" y1="531" x2="199.3" y2="534.5" stroke="#000" stroke-width="1.2"/>
<text transform="translate(204.6,543.3) rotate(-45)" text-anchor="end" class="tk" style="font-size:10.5px">12:00</text>
<line x1="264.6" y1="531" x2="264.6" y2="534.5" stroke="#000" stroke-width="1.2"/>
<text transform="translate(269.9,543.3) rotate(-45)" text-anchor="end" class="tk" style="font-size:10.5px">18:00</text>
<line x1="330" y1="531" x2="330" y2="534.5" stroke="#000" stroke-width="1.2"/>
<text transform="translate(335.3,543.3) rotate(-45)" text-anchor="end" class="tk" style="font-size:10.5px">24:00</text>
<text x="199.3" y="325.8" text-anchor="middle" class="ti">Colony 1 - Mandaçaia bee</text>
<text x="199.3" y="578.1" text-anchor="middle" class="ax">Time (h)</text>
<text transform="translate(25,433.4) rotate(-90)" text-anchor="middle" class="ax" style="font-size:15.45px">Average count</text>
<text x="2.8" y="311.7" class="lb">C</text>
<rect x="423.8" y="337" width="63.1" height="193.3" fill="#cccccc"/>
<rect x="631.3" y="337" width="54" height="193.3" fill="#cccccc"/>
<polygon points="423.8,522.2 423.8,513 424.9,514.3 426,512 427.1,511.4 428.2,509 429.2,512.2 430.3,509.8 431.4,510 432.5,512.3 433.6,512.1 434.7,509 435.8,507.6 436.9,510.2 438,505.8 439.1,508.9 440.1,508.6 441.2,510.1 442.3,507.8 443.4,506.3 444.5,507.9 445.6,504.8 446.7,505.3 447.8,507.4 448.9,507.9 450,505.4 451,508.2 452.1,503.8 453.2,504 454.3,501.7 455.4,497.8 456.5,494.9 457.6,490.9 458.7,493 459.8,491.8 460.8,487.1 461.9,484.7 463,480.7 464.1,478.8 465.2,479.5 466.3,480.9 467.4,477.3 468.5,477.7 469.6,472.3 470.7,466.9 471.7,462.8 472.8,457.4 473.9,455.7 475,459.1 476.1,458.2 477.2,455.3 478.3,452.7 479.4,447.7 480.5,446.5 481.5,438.4 482.6,424.8 483.7,408.1 484.8,388.2 485.9,363.1 487,362.1 488.1,380.7 489.2,384.5 490.3,382.2 491.4,385.7 492.4,388.5 493.5,381.7 494.6,377.7 495.7,368.3 496.8,371.9 497.9,375.2 499,371.5 500.1,355.3 501.2,369.5 502.3,373.4 503.3,380.8 504.4,384.7 505.5,394.7 506.6,399.6 507.7,399.3 508.8,411.6 509.9,410 511,417.8 512.1,416.6 513.1,422.2 514.2,424.7 515.3,423.1 516.4,431.2 517.5,432.1 518.6,429.3 519.7,445.3 520.8,443.9 521.9,445.7 523,446.9 524,451.6 525.1,449.6 526.2,455.4 527.3,458 528.4,455.3 529.5,459 530.6,458.4 531.7,451.2 532.8,454.8 533.8,451.3 534.9,453.3 536,449.7 537.1,447.9 538.2,452.6 539.3,452.1 540.4,447.9 541.5,455.8 542.6,452.9 543.7,461.3 544.7,458.8 545.8,460.8 546.9,456.8 548,452.7 549.1,453.1 550.2,443.8 551.3,448.7 552.4,448.8 553.5,446 554.6,454.7 555.6,460.1 556.7,459.8 557.8,466.8 558.9,467 560,469.1 561.1,458.4 562.2,463.7 563.3,456.9 564.4,467.7 565.4,469.5 566.5,468.8 567.6,469.5 568.7,467.8 569.8,468.2 570.9,467.1 572,471.1 573.1,473.8 574.2,473.6 575.3,470.5 576.3,468.6 577.4,471.8 578.5,478.8 579.6,472.5 580.7,475.3 581.8,471.8 582.9,474.7 584,473.9 585.1,474.3 586.2,471.6 587.2,474.3 588.3,472.1 589.4,472.1 590.5,470.8 591.6,473 592.7,470.3 593.8,470.4 594.9,470.9 596,464.8 597,468.9 598.1,466.7 599.2,461.2 600.3,461.2 601.4,460.1 602.5,456.7 603.6,460.9 604.7,452.4 605.8,449.6 606.9,448.2 607.9,450 609,452.8 610.1,455.7 611.2,459.2 612.3,457.9 613.4,459 614.5,464.2 615.6,463.7 616.7,466.9 617.7,466.3 618.8,464.6 619.9,469.5 621,470.8 622.1,471.6 623.2,475.1 624.3,474.7 625.4,484.1 626.5,477.9 627.6,478.6 628.6,486.1 629.7,490.2 630.8,497.7 631.9,500.3 633,505.6 634.1,508 635.2,510.8 636.3,508.1 637.4,511.4 638.5,508.8 639.5,513 640.6,509.6 641.7,509.9 642.8,512.5 643.9,512 645,512.4 646.1,514.3 647.2,512.6 648.3,512.9 649.3,515.6 650.4,512.7 651.5,513.8 652.6,511.1 653.7,513.1 654.8,512.4 655.9,513.8 657,517.3 658.1,510.1 659.2,511.9 660.2,513.2 661.3,514.2 662.4,511.6 663.5,514.2 664.6,513 665.7,514.8 666.8,513.2 667.9,520 669,515.2 670,515.9 671.1,510.4 672.2,512.9 673.3,513.9 674.4,517 675.5,512.3 676.6,514.3 677.7,511.9 678.8,513.1 679.9,509.8 680.9,509.6 682,511.9 683.1,515 684.2,515.3 685.3,514 685.3,522.2" fill="#EEB422"/>
<polygon points="423.8,511 424.9,512.3 426,510.5 427.1,509.3 428.2,507.4 429.2,511 430.3,507.7 431.4,508.3 432.5,511.3 433.6,510.5 434.7,507.5 435.8,505.9 436.9,508.8 438,503.5 439.1,507.6 440.1,506.7 441.2,508.6 442.3,506 443.4,504.1 444.5,506 445.6,502.7 446.7,502.9 447.8,505.7 448.9,505.7 450,503.1 451,506.6 452.1,501.5 453.2,502 454.3,499.7 455.4,495 456.5,493 457.6,488.8 458.7,490.7 459.8,488.1 460.8,484.7 461.9,481.4 463,476 464.1,476.6 465.2,475.6 466.3,476.9 467.4,474.4 468.5,472.7 469.6,469.1 470.7,462.5 471.7,458 472.8,452.5 473.9,449.4 475,453.9 476.1,453.5 477.2,451 478.3,446.1 479.4,442.6 480.5,442.8 481.5,434 482.6,416.8 483.7,401.8 484.8,378.9 485.9,349.4 487,355 488.1,373.8 489.2,371.8 490.3,369.6 491.4,373.3 492.4,380.7 493.5,373.5 494.6,368.8 495.7,354.7 496.8,364.7 497.9,365.2 499,363.4 500.1,346.3 501.2,362.8 502.3,364.4 503.3,374.7 504.4,375.8 505.5,384.7 506.6,392.6 507.7,392 508.8,406.5 509.9,399.5 511,413.1 512.1,407.7 513.1,414.3 514.2,419.6 515.3,418.4 516.4,426.1 517.5,427.1 518.6,423 519.7,440.4 520.8,439.7 521.9,439.4 523,443.3 524,447.4 525.1,443.1 526.2,448.8 527.3,452 528.4,449.4 529.5,455.5 530.6,452.2 531.7,447.8 532.8,450.5 533.8,445.7 534.9,446.8 536,442.9 537.1,443.7 538.2,449.3 539.3,448 540.4,442.3 541.5,449.1 542.6,446.6 543.7,457 544.7,452.5 545.8,456.8 546.9,452.2 548,445.7 549.1,449.8 550.2,439.4 551.3,441.6 552.4,442.9 553.5,441 554.6,449.2 555.6,456.5 556.7,455.4 557.8,463.8 558.9,463.4 560,463.6 561.1,453.6 562.2,457.5 563.3,451.5 564.4,462.6 565.4,466.3 566.5,463.2 567.6,466.5 568.7,462.8 569.8,463.3 570.9,464.3 572,466.7 573.1,469.6 574.2,468.6 575.3,466.2 576.3,463 577.4,466.8 578.5,476.5 579.6,467.9 580.7,471.4 581.8,467.7 582.9,469.8 584,470.2 585.1,470.3 586.2,466.3 587.2,470.9 588.3,466.9 589.4,469.7 590.5,467.7 591.6,468.1 592.7,466 593.8,466.3 594.9,465.9 596,461.5 597,464.8 598.1,463.1 599.2,455.3 600.3,457.7 601.4,457.3 602.5,451.3 603.6,457.7 604.7,448.4 605.8,444.2 606.9,443.4 607.9,444.2 609,446.4 610.1,448.8 611.2,454 612.3,453.7 613.4,455 614.5,459.8 615.6,458.4 616.7,461.7 617.7,462.7 618.8,461.7 619.9,463.9 621,466.4 622.1,468.7 623.2,471.5 624.3,472.2 625.4,481.1 626.5,474.4 627.6,475.7 628.6,482.9 629.7,488.1 630.8,496.2 631.9,497.2 633,503.4 634.1,505.7 635.2,509.1 636.3,506.2 637.4,510.3 638.5,506.9 639.5,511.2 640.6,507.3 641.7,508.2 642.8,511.2 643.9,510.7 645,510.3 646.1,512.5 647.2,510.5 648.3,511.4 649.3,514.1 650.4,511.5 651.5,512.4 652.6,509.3 653.7,511.7 654.8,510.6 655.9,512 657,515.7 658.1,507.7 659.2,510.9 660.2,512.1 661.3,512.5 662.4,510.5 663.5,512.8 664.6,511.3 665.7,512.8 666.8,511.2 667.9,518.7 669,513.6 670,514.1 671.1,509.1 672.2,511.2 673.3,512.8 674.4,515.7 675.5,511.3 676.6,512.7 677.7,509.8 678.8,511.4 679.9,507.7 680.9,507.8 682,510.4 683.1,513.6 684.2,513.9 685.3,513 685.3,515.5 684.2,516.9 683.1,516.7 682,513.9 680.9,511.1 679.9,511.1 678.8,514.2 677.7,513.4 676.6,515.6 675.5,514.4 674.4,518.2 673.3,515.6 672.2,515.1 671.1,511.4 670,516.9 669,517.1 667.9,521.2 666.8,514.2 665.7,516.6 664.6,514 663.5,515.9 662.4,513.7 661.3,515.5 660.2,514.2 659.2,513.3 658.1,512.2 657,518.3 655.9,514.9 654.8,513.7 653.7,514.9 652.6,512.4 651.5,515.2 650.4,514.6 649.3,517 648.3,514.7 647.2,514.7 646.1,515.6 645,514.4 643.9,514 642.8,514.3 641.7,511.9 640.6,511.1 639.5,514 638.5,510.7 637.4,512.5 636.3,510.4 635.2,512.8 634.1,510.3 633,507.2 631.9,503.4 630.8,501.1 629.7,493.9 628.6,488.3 627.6,481.8 626.5,482.1 625.4,486.7 624.3,478.8 623.2,478.3 622.1,475.6 621,475.3 619.9,474.1 618.8,470.4 617.7,469 616.7,471.7 615.6,467.5 614.5,468.2 613.4,463.7 612.3,462.1 611.2,462.5 610.1,460.8 609,456.7 607.9,456.2 606.9,454.9 605.8,455 604.7,458.1 603.6,467.4 602.5,460.9 601.4,466.1 600.3,466.5 599.2,467.4 598.1,470.2 597,474.4 596,469 594.9,473.8 593.8,474.9 592.7,473.3 591.6,477 590.5,473.4 589.4,476.2 588.3,476.2 587.2,478.2 586.2,474.5 585.1,477 584,479.3 582.9,479.1 581.8,475.1 580.7,478.8 579.6,477.1 578.5,482.8 577.4,476.6 576.3,473.1 575.3,474.5 574.2,478.9 573.1,479 572,473.7 570.9,472.1 569.8,472.3 568.7,472.6 567.6,473.5 566.5,472.3 565.4,472.2 564.4,471.8 563.3,461 562.2,469.6 561.1,464.7 560,471.7 558.9,470 557.8,470.4 556.7,464.2 555.6,465.7 554.6,461.1 553.5,452.9 552.4,454.4 551.3,454.9 550.2,448.9 549.1,459.8 548,458.7 546.9,459.8 545.8,467 544.7,465.1 543.7,465.1 542.6,456.2 541.5,460.9 540.4,453.2 539.3,456 538.2,459.8 537.1,453.7 536,453.1 534.9,459.5 533.8,454.7 532.8,458.6 531.7,457.7 530.6,462 529.5,461.9 528.4,461.7 527.3,463.5 526.2,461.5 525.1,453.1 524,455.9 523,451.6 521.9,452.1 520.8,451.4 519.7,450.2 518.6,437.7 517.5,440.5 516.4,440.2 515.3,429.5 514.2,432.7 513.1,429.7 512.1,425.9 511,424.8 509.9,418.5 508.8,417.7 507.7,407.7 506.6,407.2 505.5,402.7 504.4,393.2 503.3,388.2 502.3,379.8 501.2,377.5 500.1,369.7 499,379.5 497.9,386 496.8,379.6 495.7,376.9 494.6,388.1 493.5,388.9 492.4,398.5 491.4,391.7 490.3,390.5 489.2,390.8 488.1,387.8 487,372.5 485.9,375.8 484.8,395.2 483.7,418.4 482.6,433.5 481.5,444.5 480.5,452.1 479.4,453.7 478.3,458.1 477.2,459.7 476.1,462.7 475,462.2 473.9,462.6 472.8,462.6 471.7,466.1 470.7,471.5 469.6,475.3 468.5,481.3 467.4,480.8 466.3,484 465.2,483.6 464.1,483 463,485.1 461.9,487.1 460.8,489.7 459.8,493.8 458.7,496.1 457.6,494.1 456.5,496.8 455.4,500.9 454.3,504.1 453.2,505.3 452.1,506.2 451,510.1 450,507 448.9,509.7 447.8,509.3 446.7,508 445.6,506.4 444.5,509.4 443.4,507.7 442.3,509 441.2,512.2 440.1,509.8 439.1,509.9 438,507.2 436.9,511.9 435.8,509.6 434.7,510.5 433.6,514.2 432.5,514.3 431.4,511.6 430.3,512 429.2,513.5 428.2,511.4 427.1,513.1 426,513.7 424.9,515.8 423.8,514.3" fill="#000" fill-opacity="0.68" stroke="#000" stroke-width="0.5"/>
<polyline points="423.8,513 424.9,514.3 426,512 427.1,511.4 428.2,509 429.2,512.2 430.3,509.8 431.4,510 432.5,512.3 433.6,512.1 434.7,509 435.8,507.6 436.9,510.2 438,505.8 439.1,508.9 440.1,508.6 441.2,510.1 442.3,507.8 443.4,506.3 444.5,507.9 445.6,504.8 446.7,505.3 447.8,507.4 448.9,507.9 450,505.4 451,508.2 452.1,503.8 453.2,504 454.3,501.7 455.4,497.8 456.5,494.9 457.6,490.9 458.7,493 459.8,491.8 460.8,487.1 461.9,484.7 463,480.7 464.1,478.8 465.2,479.5 466.3,480.9 467.4,477.3 468.5,477.7 469.6,472.3 470.7,466.9 471.7,462.8 472.8,457.4 473.9,455.7 475,459.1 476.1,458.2 477.2,455.3 478.3,452.7 479.4,447.7 480.5,446.5 481.5,438.4 482.6,424.8 483.7,408.1 484.8,388.2 485.9,363.1 487,362.1 488.1,380.7 489.2,384.5 490.3,382.2 491.4,385.7 492.4,388.5 493.5,381.7 494.6,377.7 495.7,368.3 496.8,371.9 497.9,375.2 499,371.5 500.1,355.3 501.2,369.5 502.3,373.4 503.3,380.8 504.4,384.7 505.5,394.7 506.6,399.6 507.7,399.3 508.8,411.6 509.9,410 511,417.8 512.1,416.6 513.1,422.2 514.2,424.7 515.3,423.1 516.4,431.2 517.5,432.1 518.6,429.3 519.7,445.3 520.8,443.9 521.9,445.7 523,446.9 524,451.6 525.1,449.6 526.2,455.4 527.3,458 528.4,455.3 529.5,459 530.6,458.4 531.7,451.2 532.8,454.8 533.8,451.3 534.9,453.3 536,449.7 537.1,447.9 538.2,452.6 539.3,452.1 540.4,447.9 541.5,455.8 542.6,452.9 543.7,461.3 544.7,458.8 545.8,460.8 546.9,456.8 548,452.7 549.1,453.1 550.2,443.8 551.3,448.7 552.4,448.8 553.5,446 554.6,454.7 555.6,460.1 556.7,459.8 557.8,466.8 558.9,467 560,469.1 561.1,458.4 562.2,463.7 563.3,456.9 564.4,467.7 565.4,469.5 566.5,468.8 567.6,469.5 568.7,467.8 569.8,468.2 570.9,467.1 572,471.1 573.1,473.8 574.2,473.6 575.3,470.5 576.3,468.6 577.4,471.8 578.5,478.8 579.6,472.5 580.7,475.3 581.8,471.8 582.9,474.7 584,473.9 585.1,474.3 586.2,471.6 587.2,474.3 588.3,472.1 589.4,472.1 590.5,470.8 591.6,473 592.7,470.3 593.8,470.4 594.9,470.9 596,464.8 597,468.9 598.1,466.7 599.2,461.2 600.3,461.2 601.4,460.1 602.5,456.7 603.6,460.9 604.7,452.4 605.8,449.6 606.9,448.2 607.9,450 609,452.8 610.1,455.7 611.2,459.2 612.3,457.9 613.4,459 614.5,464.2 615.6,463.7 616.7,466.9 617.7,466.3 618.8,464.6 619.9,469.5 621,470.8 622.1,471.6 623.2,475.1 624.3,474.7 625.4,484.1 626.5,477.9 627.6,478.6 628.6,486.1 629.7,490.2 630.8,497.7 631.9,500.3 633,505.6 634.1,508 635.2,510.8 636.3,508.1 637.4,511.4 638.5,508.8 639.5,513 640.6,509.6 641.7,509.9 642.8,512.5 643.9,512 645,512.4 646.1,514.3 647.2,512.6 648.3,512.9 649.3,515.6 650.4,512.7 651.5,513.8 652.6,511.1 653.7,513.1 654.8,512.4 655.9,513.8 657,517.3 658.1,510.1 659.2,511.9 660.2,513.2 661.3,514.2 662.4,511.6 663.5,514.2 664.6,513 665.7,514.8 666.8,513.2 667.9,520 669,515.2 670,515.9 671.1,510.4 672.2,512.9 673.3,513.9 674.4,517 675.5,512.3 676.6,514.3 677.7,511.9 678.8,513.1 679.9,509.8 680.9,509.6 682,511.9 683.1,515 684.2,515.3 685.3,514" fill="none" stroke="#000" stroke-width="1.3" stroke-linejoin="round"/>
<line x1="410.6" y1="336.3" x2="410.6" y2="531.7" stroke="#000" stroke-width="1.4"/>
<line x1="409.9" y1="531" x2="698.4" y2="531" stroke="#000" stroke-width="1.8"/>
<line x1="407.2" y1="522.2" x2="410.6" y2="522.2" stroke="#000" stroke-width="1.2"/>
<text x="404.4" y="525.9" text-anchor="end" class="tk">0</text>
<line x1="407.2" y1="478" x2="410.6" y2="478" stroke="#000" stroke-width="1.2"/>
<text x="404.4" y="481.7" text-anchor="end" class="tk">50</text>
<line x1="407.2" y1="433.8" x2="410.6" y2="433.8" stroke="#000" stroke-width="1.2"/>
<text x="404.4" y="437.4" text-anchor="end" class="tk">100</text>
<line x1="407.2" y1="389.5" x2="410.6" y2="389.5" stroke="#000" stroke-width="1.2"/>
<text x="404.4" y="393.2" text-anchor="end" class="tk">150</text>
<line x1="407.2" y1="345.3" x2="410.6" y2="345.3" stroke="#000" stroke-width="1.2"/>
<text x="404.4" y="349" text-anchor="end" class="tk">200</text>
<line x1="423.5" y1="531" x2="423.5" y2="534.5" stroke="#000" stroke-width="1.2"/>
<text transform="translate(428.8,543.3) rotate(-45)" text-anchor="end" class="tk" style="font-size:10.5px">0:00</text>
<line x1="488.9" y1="531" x2="488.9" y2="534.5" stroke="#000" stroke-width="1.2"/>
<text transform="translate(494.2,543.3) rotate(-45)" text-anchor="end" class="tk" style="font-size:10.5px">6:00</text>
<line x1="554.3" y1="531" x2="554.3" y2="534.5" stroke="#000" stroke-width="1.2"/>
<text transform="translate(559.6,543.3) rotate(-45)" text-anchor="end" class="tk" style="font-size:10.5px">12:00</text>
<line x1="619.6" y1="531" x2="619.6" y2="534.5" stroke="#000" stroke-width="1.2"/>
<text transform="translate(624.9,543.3) rotate(-45)" text-anchor="end" class="tk" style="font-size:10.5px">18:00</text>
<line x1="685" y1="531" x2="685" y2="534.5" stroke="#000" stroke-width="1.2"/>
<text transform="translate(690.3,543.3) rotate(-45)" text-anchor="end" class="tk" style="font-size:10.5px">24:00</text>
<text x="554.4" y="325.8" text-anchor="middle" class="ti">Colony 2 - Mandaçaia bee</text>
<text x="554.4" y="578.1" text-anchor="middle" class="ax">Time (h)</text>
<text transform="translate(380,433.4) rotate(-90)" text-anchor="middle" class="ax" style="font-size:15.45px">Average count</text>
<text x="357.8" y="311.7" class="lb">D</text>
<rect x="68.8" y="634" width="57.6" height="193.3" fill="#cccccc"/>
<rect x="267" y="634" width="63.3" height="193.3" fill="#cccccc"/>
<polygon points="68.8,819.2 68.8,811 69.9,811.5 71,814.6 72.1,813.9 73.2,809 74.2,811.2 75.3,811.8 76.4,808.4 77.5,809 78.6,810.4 79.7,809.9 80.8,813.6 81.9,811.4 83,817.6 84.1,810.3 85.1,810.4 86.2,816.1 87.3,809.9 88.4,815.9 89.5,804.3 90.6,809.7 91.7,814.2 92.8,814.6 93.9,812.1 95,809.7 96,810.8 97.1,812.8 98.2,811.8 99.3,813.4 100.4,809.5 101.5,804.1 102.6,814 103.7,817.9 104.8,812.7 105.8,809.2 106.9,809.3 108,806.4 109.1,806.1 110.2,812.2 111.3,815.6 112.4,810.9 113.5,805.7 114.6,811.6 115.7,810.7 116.7,806 117.8,815 118.9,813.9 120,814.5 121.1,809.4 122.2,812 123.3,808.7 124.4,813.7 125.5,800.1 126.5,815 127.6,810.3 128.7,808.6 129.8,801.9 130.9,805.9 132,795.8 133.1,795 134.2,793.7 135.3,801.1 136.4,793.5 137.4,789.5 138.5,788 139.6,787.6 140.7,773.9 141.8,764 142.9,761.5 144,760 145.1,759.8 146.2,748.9 147.3,744.8 148.3,734.6 149.4,732.3 150.5,739.8 151.6,735.7 152.7,729.5 153.8,718.5 154.9,721.6 156,718.2 157.1,714.9 158.1,706.7 159.2,701.8 160.3,704 161.4,704.6 162.5,704 163.6,702.3 164.7,706.6 165.8,700.9 166.9,674 168,706.4 169,703.7 170.1,703.1 171.2,705.1 172.3,705.3 173.4,710.1 174.5,709 175.6,703.6 176.7,715.7 177.8,715.7 178.8,721 179.9,714.2 181,718.6 182.1,725.6 183.2,728.4 184.3,734 185.4,730.8 186.5,731.6 187.6,735.9 188.7,730.5 189.7,736.5 190.8,745.6 191.9,737.2 193,732.6 194.1,735.4 195.2,734.7 196.3,735.4 197.4,733.4 198.5,729.8 199.6,722.8 200.6,719.1 201.7,718.3 202.8,684 203.9,721.8 205,726.2 206.1,734.6 207.2,731.4 208.3,732 209.4,729.6 210.4,730 211.5,724.1 212.6,723.1 213.7,721.3 214.8,721.4 215.9,717.7 217,713.3 218.1,706 219.2,702.1 220.3,701.7 221.3,698.6 222.4,697.3 223.5,704 224.6,709.8 225.7,698.3 226.8,699.6 227.9,695.1 229,695 230.1,690.7 231.2,689.6 232.2,676 233.3,693.4 234.4,699.2 235.5,701.6 236.6,703.9 237.7,710 238.8,699.2 239.9,713 241,718.7 242,719.5 243.1,723.6 244.2,718.4 245.3,725.5 246.4,720.9 247.5,732.6 248.6,728.8 249.7,734.6 250.8,733.7 251.9,738.4 252.9,736.5 254,746.1 255.1,749.2 256.2,750.2 257.3,754.5 258.4,756.1 259.5,757.8 260.6,762.2 261.7,761.7 262.7,768.7 263.8,772.2 264.9,780.9 266,786.5 267.1,791.1 268.2,793.8 269.3,796.9 270.4,800.7 271.5,796.2 272.6,800.4 273.6,807.9 274.7,800.7 275.8,799.5 276.9,799.7 278,797.6 279.1,797.2 280.2,796.7 281.3,794.4 282.4,799.5 283.5,797.6 284.5,799.8 285.6,798 286.7,800.2 287.8,792.2 288.9,805.4 290,803.1 291.1,805.4 292.2,804.3 293.3,803 294.3,805.4 295.4,807 296.5,805.9 297.6,804.1 298.7,804.2 299.8,803.6 300.9,805.8 302,808.7 303.1,809.3 304.2,809.7 305.2,808.4 306.3,809.7 307.4,808.7 308.5,817.1 309.6,808.4 310.7,808.6 311.8,807.5 312.9,808.1 314,811.7 315,812 316.1,804.8 317.2,810.4 318.3,810.7 319.4,810.7 320.5,805.6 321.6,805.9 322.7,808.4 323.8,809.2 324.9,806.4 325.9,811.1 327,810.7 328.1,809.7 329.2,809.9 330.3,808 330.3,819.2" fill="#CD8500"/>
<polygon points="68.8,809.5 69.9,810.2 71,813.8 72.1,812.1 73.2,807.2 74.2,809.3 75.3,810.4 76.4,807.3 77.5,807.7 78.6,808.6 79.7,807.8 80.8,812.1 81.9,809.4 83,816.1 84.1,809 85.1,809.3 86.2,814.7 87.3,808 88.4,814.7 89.5,801.9 90.6,807.5 91.7,813.2 92.8,813.4 93.9,811.2 95,808.3 96,809.8 97.1,811.2 98.2,810.3 99.3,811.9 100.4,807.9 101.5,802.9 102.6,813 103.7,816.9 104.8,811.7 105.8,807.2 106.9,808.3 108,804.9 109.1,804.3 110.2,810.8 111.3,814.6 112.4,808.9 113.5,803.7 114.6,810.6 115.7,808.6 116.7,804.8 117.8,813.6 118.9,812.1 120,813 121.1,807.8 122.2,810.9 123.3,807 124.4,812.1 125.5,798.6 126.5,813.5 127.6,808.7 128.7,807.5 129.8,799.4 130.9,803.9 132,792.7 133.1,793.1 134.2,791.6 135.3,798.3 136.4,790.1 137.4,785.7 138.5,786.2 139.6,784.8 140.7,768.9 141.8,759.2 142.9,757.2 144,756.8 145.1,755.2 146.2,742.5 147.3,739 148.3,729 149.4,723.6 150.5,735.7 151.6,727.9 152.7,724.8 153.8,712.8 154.9,712.7 156,712.3 157.1,709.4 158.1,700.6 159.2,690.8 160.3,693.3 161.4,695.2 162.5,695.8 163.6,691.2 164.7,697.9 165.8,693 166.9,661.4 168,698 169,695.7 170.1,694.2 171.2,698.7 172.3,700 173.4,701.2 174.5,701.3 175.6,695.9 176.7,706.4 177.8,706.5 178.8,715.2 179.9,707.3 181,710.4 182.1,718.7 183.2,720.7 184.3,730 185.4,723.3 186.5,726.6 187.6,731.7 188.7,725 189.7,729.8 190.8,740 191.9,733.6 193,727 194.1,731 195.2,728 196.3,730.6 197.4,728.5 198.5,722.8 199.6,716.7 200.6,711 201.7,711.7 202.8,675.5 203.9,715.7 205,719.4 206.1,726.2 207.2,725.7 208.3,728 209.4,724.9 210.4,724.2 211.5,715.4 212.6,716.9 213.7,712.6 214.8,715.9 215.9,709.3 217,707.9 218.1,696 219.2,693.1 220.3,693.6 221.3,687.1 222.4,687.9 223.5,693 224.6,701.5 225.7,687.1 226.8,690.2 227.9,686.3 229,687.4 230.1,682.7 231.2,681.3 232.2,669 233.3,684.6 234.4,687.7 235.5,692.5 236.6,698.9 237.7,703.9 238.8,688.6 239.9,705.2 241,713.9 242,712.5 243.1,718.4 244.2,708.8 245.3,718 246.4,714 247.5,725.3 248.6,722.3 249.7,729.1 250.8,726.7 251.9,733.5 252.9,729.8 254,739.4 255.1,742.8 256.2,746.1 257.3,749.7 258.4,749.6 259.5,754.4 260.6,758.9 261.7,758.5 262.7,766.2 263.8,769 264.9,777.8 266,782.4 267.1,788.9 268.2,790.5 269.3,794.6 270.4,799.1 271.5,794.1 272.6,797.9 273.6,806.5 274.7,798.7 275.8,797.4 276.9,797.3 278,794.5 279.1,795.8 280.2,794.2 281.3,791.2 282.4,797.9 283.5,796.1 284.5,796.8 285.6,795.1 286.7,797.6 287.8,790.4 288.9,803.4 290,801 291.1,804 292.2,801.9 293.3,800.8 294.3,803.2 295.4,804.6 296.5,804 297.6,801.8 298.7,802.7 299.8,802.2 300.9,804.6 302,807 303.1,808.1 304.2,808.5 305.2,806.6 306.3,807.8 307.4,806.5 308.5,815.6 309.6,806.4 310.7,806.7 311.8,805.5 312.9,806.3 314,810.9 315,810.2 316.1,803.2 317.2,808.5 318.3,808.6 319.4,809.3 320.5,803.2 321.6,803.7 322.7,807 323.8,807.9 324.9,804.1 325.9,810 327,808.8 328.1,808.5 329.2,808.7 330.3,806.1 330.3,809.1 329.2,812.1 328.1,811.3 327,812.5 325.9,813.1 324.9,808 323.8,810.5 322.7,809.7 321.6,807 320.5,807.9 319.4,812.6 318.3,812.6 317.2,811.5 316.1,806.8 315,813 314,813.1 312.9,809.6 311.8,809.6 310.7,810.7 309.6,810 308.5,818.1 307.4,810.5 306.3,811.1 305.2,810.3 304.2,810.7 303.1,811.1 302,810.8 300.9,807 299.8,805.1 298.7,805.6 297.6,805.7 296.5,808.3 295.4,808.9 294.3,807.1 293.3,804.6 292.2,806.1 291.1,807.1 290,804.9 288.9,807.1 287.8,795.1 286.7,801.8 285.6,800 284.5,801.7 283.5,799.5 282.4,801.5 281.3,797 280.2,799.3 279.1,799.4 278,799.6 276.9,802 275.8,801.2 274.7,803.2 273.6,809.7 272.6,802.3 271.5,799.5 270.4,802.6 269.3,799.5 268.2,795.9 267.1,793.9 266,790.2 264.9,783 263.8,774.5 262.7,771.3 261.7,767.4 260.6,767.8 259.5,762.8 258.4,759.8 257.3,760.4 256.2,754.8 255.1,755.2 254,750.6 252.9,742 251.9,745.9 250.8,739.2 249.7,739.8 248.6,735.9 247.5,740.9 246.4,727.4 245.3,730.7 244.2,723.7 243.1,729.3 242,727.8 241,724.6 239.9,719.8 238.8,706 237.7,717.4 236.6,713.1 235.5,712.7 234.4,704.3 233.3,699.5 232.2,687 231.2,701.4 230.1,701.3 229,702.8 227.9,703.7 226.8,710.7 225.7,703.9 224.6,718.6 223.5,710.2 222.4,708.5 221.3,709.1 220.3,712.7 219.2,708.1 218.1,712.2 217,722.4 215.9,727.5 214.8,729.5 213.7,730 212.6,730.5 211.5,730.5 210.4,738.2 209.4,736.7 208.3,739.1 207.2,739 206.1,738.5 205,730.7 203.9,730.8 202.8,691.6 201.7,725.5 200.6,728 199.6,731.3 198.5,735.5 197.4,737.7 196.3,742.6 195.2,742 194.1,742.2 193,740.4 191.9,744.7 190.8,752.8 189.7,741.2 188.7,738.4 187.6,743.6 186.5,737.6 185.4,737.7 184.3,741.5 183.2,736.1 182.1,731.6 181,726.2 179.9,721.2 178.8,729.9 177.8,721.9 176.7,723.1 175.6,713 174.5,718.7 173.4,717.1 172.3,713.9 171.2,711.2 170.1,710 169,713.3 168,715.8 166.9,679.9 165.8,711.3 164.7,711.8 163.6,709.7 162.5,713.1 161.4,711.9 160.3,715 159.2,710.3 158.1,715.9 157.1,721.4 156,726.6 154.9,727.3 153.8,723.3 152.7,735.6 151.6,742.8 150.5,744.5 149.4,739.9 148.3,740.9 147.3,751.1 146.2,755.9 145.1,766.1 144,764.7 142.9,766 141.8,768.5 140.7,779 139.6,789.8 138.5,789.7 137.4,792.8 136.4,796.9 135.3,802.8 134.2,795.9 133.1,797 132,797.3 130.9,807.2 129.8,803.2 128.7,810.3 127.6,812 126.5,816.3 125.5,802.1 124.4,815.2 123.3,810.9 122.2,813.6 121.1,810.5 120,815.6 118.9,815.4 117.8,816.4 116.7,807.8 115.7,812.5 114.6,812.5 113.5,808.1 112.4,811.9 111.3,817 110.2,814 109.1,808 108,808.8 106.9,810.5 105.8,811 104.8,813.9 103.7,818.9 102.6,815.8 101.5,805.9 100.4,810.8 99.3,815 98.2,812.9 97.1,813.7 96,812 95,810.7 93.9,813.8 92.8,815.9 91.7,815.5 90.6,810.9 89.5,806.3 88.4,817.1 87.3,811.2 86.2,817.5 85.1,812.4 84.1,812 83,818.7 81.9,813.1 80.8,814.5 79.7,812.1 78.6,812 77.5,810.2 76.4,810 75.3,813 74.2,812.8 73.2,810.6 72.1,815.6 71,816.3 69.9,813.3 68.8,813" fill="#000" fill-opacity="0.68" stroke="#000" stroke-width="0.5"/>
<polyline points="68.8,811 69.9,811.5 71,814.6 72.1,813.9 73.2,809 74.2,811.2 75.3,811.8 76.4,808.4 77.5,809 78.6,810.4 79.7,809.9 80.8,813.6 81.9,811.4 83,817.6 84.1,810.3 85.1,810.4 86.2,816.1 87.3,809.9 88.4,815.9 89.5,804.3 90.6,809.7 91.7,814.2 92.8,814.6 93.9,812.1 95,809.7 96,810.8 97.1,812.8 98.2,811.8 99.3,813.4 100.4,809.5 101.5,804.1 102.6,814 103.7,817.9 104.8,812.7 105.8,809.2 106.9,809.3 108,806.4 109.1,806.1 110.2,812.2 111.3,815.6 112.4,810.9 113.5,805.7 114.6,811.6 115.7,810.7 116.7,806 117.8,815 118.9,813.9 120,814.5 121.1,809.4 122.2,812 123.3,808.7 124.4,813.7 125.5,800.1 126.5,815 127.6,810.3 128.7,808.6 129.8,801.9 130.9,805.9 132,795.8 133.1,795 134.2,793.7 135.3,801.1 136.4,793.5 137.4,789.5 138.5,788 139.6,787.6 140.7,773.9 141.8,764 142.9,761.5 144,760 145.1,759.8 146.2,748.9 147.3,744.8 148.3,734.6 149.4,732.3 150.5,739.8 151.6,735.7 152.7,729.5 153.8,718.5 154.9,721.6 156,718.2 157.1,714.9 158.1,706.7 159.2,701.8 160.3,704 161.4,704.6 162.5,704 163.6,702.3 164.7,706.6 165.8,700.9 166.9,674 168,706.4 169,703.7 170.1,703.1 171.2,705.1 172.3,705.3 173.4,710.1 174.5,709 175.6,703.6 176.7,715.7 177.8,715.7 178.8,721 179.9,714.2 181,718.6 182.1,725.6 183.2,728.4 184.3,734 185.4,730.8 186.5,731.6 187.6,735.9 188.7,730.5 189.7,736.5 190.8,745.6 191.9,737.2 193,732.6 194.1,735.4 195.2,734.7 196.3,735.4 197.4,733.4 198.5,729.8 199.6,722.8 200.6,719.1 201.7,718.3 202.8,684 203.9,721.8 205,726.2 206.1,734.6 207.2,731.4 208.3,732 209.4,729.6 210.4,730 211.5,724.1 212.6,723.1 213.7,721.3 214.8,721.4 215.9,717.7 217,713.3 218.1,706 219.2,702.1 220.3,701.7 221.3,698.6 222.4,697.3 223.5,704 224.6,709.8 225.7,698.3 226.8,699.6 227.9,695.1 229,695 230.1,690.7 231.2,689.6 232.2,676 233.3,693.4 234.4,699.2 235.5,701.6 236.6,703.9 237.7,710 238.8,699.2 239.9,713 241,718.7 242,719.5 243.1,723.6 244.2,718.4 245.3,725.5 246.4,720.9 247.5,732.6 248.6,728.8 249.7,734.6 250.8,733.7 251.9,738.4 252.9,736.5 254,746.1 255.1,749.2 256.2,750.2 257.3,754.5 258.4,756.1 259.5,757.8 260.6,762.2 261.7,761.7 262.7,768.7 263.8,772.2 264.9,780.9 266,786.5 267.1,791.1 268.2,793.8 269.3,796.9 270.4,800.7 271.5,796.2 272.6,800.4 273.6,807.9 274.7,800.7 275.8,799.5 276.9,799.7 278,797.6 279.1,797.2 280.2,796.7 281.3,794.4 282.4,799.5 283.5,797.6 284.5,799.8 285.6,798 286.7,800.2 287.8,792.2 288.9,805.4 290,803.1 291.1,805.4 292.2,804.3 293.3,803 294.3,805.4 295.4,807 296.5,805.9 297.6,804.1 298.7,804.2 299.8,803.6 300.9,805.8 302,808.7 303.1,809.3 304.2,809.7 305.2,808.4 306.3,809.7 307.4,808.7 308.5,817.1 309.6,808.4 310.7,808.6 311.8,807.5 312.9,808.1 314,811.7 315,812 316.1,804.8 317.2,810.4 318.3,810.7 319.4,810.7 320.5,805.6 321.6,805.9 322.7,808.4 323.8,809.2 324.9,806.4 325.9,811.1 327,810.7 328.1,809.7 329.2,809.9 330.3,808" fill="none" stroke="#000" stroke-width="1.3" stroke-linejoin="round"/>
<line x1="55.6" y1="633.3" x2="55.6" y2="828.7" stroke="#000" stroke-width="1.4"/>
<line x1="54.9" y1="828" x2="343.4" y2="828" stroke="#000" stroke-width="1.8"/>
<line x1="52.2" y1="819.2" x2="55.6" y2="819.2" stroke="#000" stroke-width="1.2"/>
<text x="49.4" y="822.9" text-anchor="end" class="tk">0</text>
<line x1="52.2" y1="760.2" x2="55.6" y2="760.2" stroke="#000" stroke-width="1.2"/>
<text x="49.4" y="763.9" text-anchor="end" class="tk">20</text>
<line x1="52.2" y1="701.3" x2="55.6" y2="701.3" stroke="#000" stroke-width="1.2"/>
<text x="49.4" y="705" text-anchor="end" class="tk">40</text>
<line x1="52.2" y1="642.3" x2="55.6" y2="642.3" stroke="#000" stroke-width="1.2"/>
<text x="49.4" y="646" text-anchor="end" class="tk">60</text>
<line x1="68.5" y1="828" x2="68.5" y2="831.5" stroke="#000" stroke-width="1.2"/>
<text transform="translate(73.8,840.3) rotate(-45)" text-anchor="end" class="tk" style="font-size:10.5px">0:00</text>
<line x1="133.9" y1="828" x2="133.9" y2="831.5" stroke="#000" stroke-width="1.2"/>
<text transform="translate(139.2,840.3) rotate(-45)" text-anchor="end" class="tk" style="font-size:10.5px">6:00</text>
<line x1="199.3" y1="828" x2="199.3" y2="831.5" stroke="#000" stroke-width="1.2"/>
<text transform="translate(204.6,840.3) rotate(-45)" text-anchor="end" class="tk" style="font-size:10.5px">12:00</text>
<line x1="264.6" y1="828" x2="264.6" y2="831.5" stroke="#000" stroke-width="1.2"/>
<text transform="translate(269.9,840.3) rotate(-45)" text-anchor="end" class="tk" style="font-size:10.5px">18:00</text>
<line x1="330" y1="828" x2="330" y2="831.5" stroke="#000" stroke-width="1.2"/>
<text transform="translate(335.3,840.3) rotate(-45)" text-anchor="end" class="tk" style="font-size:10.5px">24:00</text>
<text x="199.3" y="622.8" text-anchor="middle" class="ti">Colony 1 - Yellow marmalade bee</text>
<text x="199.3" y="875.1" text-anchor="middle" class="ax">Time (h)</text>
<text transform="translate(25,730.4) rotate(-90)" text-anchor="middle" class="ax" style="font-size:15.45px">Average count</text>
<text x="2.8" y="608.7" class="lb">E</text>
<rect x="423.8" y="634" width="58.2" height="193.3" fill="#cccccc"/>
<rect x="622" y="634" width="63.3" height="193.3" fill="#cccccc"/>
<polygon points="423.8,819.2 423.8,784 424.9,784.3 426,780.4 427.1,780.1 428.2,793.4 429.2,779.7 430.3,781.3 431.4,781.2 432.5,792.4 433.6,779.5 434.7,779.7 435.8,784.1 436.9,781.7 438,778.2 439.1,785.6 440.1,775 441.2,776.1 442.3,784.1 443.4,782.6 444.5,789.6 445.6,786.4 446.7,785.3 447.8,787.2 448.9,778.4 450,772.6 451,781.9 452.1,777.6 453.2,792.6 454.3,781 455.4,784.9 456.5,790.7 457.6,781.1 458.7,781.5 459.8,786.2 460.8,785 461.9,789.2 463,784.1 464.1,785.7 465.2,784 466.3,787.5 467.4,789.9 468.5,790.2 469.6,793.3 470.7,796.6 471.7,802.7 472.8,789.4 473.9,784.6 475,793.1 476.1,786.1 477.2,768.8 478.3,779.5 479.4,783.6 480.5,778 481.5,782.5 482.6,774.3 483.7,770.1 484.8,759.5 485.9,757.9 487,750.7 488.1,750 489.2,739.4 490.3,763.2 491.4,732.9 492.4,720 493.5,729.8 494.6,726.3 495.7,715.9 496.8,727.6 497.9,719.4 499,719.3 500.1,745 501.2,716.5 502.3,715.7 503.3,716.9 504.4,721.2 505.5,699.1 506.6,724.9 507.7,707.8 508.8,718.5 509.9,698.2 511,684.4 512.1,695.7 513.1,701 514.2,698.2 515.3,700.4 516.4,692.6 517.5,679.3 518.6,679 519.7,688.4 520.8,695.1 521.9,677.2 523,697.1 524,694 525.1,690 526.2,685.5 527.3,695 528.4,696.2 529.5,700.3 530.6,698.9 531.7,702.6 532.8,700.3 533.8,687.3 534.9,689.2 536,706.2 537.1,686.1 538.2,681.8 539.3,689.7 540.4,721.2 541.5,699.7 542.6,684.2 543.7,713.7 544.7,698.8 545.8,684.7 546.9,704.5 548,697.1 549.1,683.2 550.2,693 551.3,688.3 552.4,702.1 553.5,712.6 554.6,729.4 555.6,697 556.7,686.9 557.8,705.1 558.9,691.8 560,687 561.1,683.7 562.2,689.9 563.3,681.5 564.4,670.5 565.4,688.1 566.5,686.6 567.6,696 568.7,686.8 569.8,707.6 570.9,684 572,697.9 573.1,682.4 574.2,694.1 575.3,706.2 576.3,693.9 577.4,692.2 578.5,699.3 579.6,695.3 580.7,688.8 581.8,697.2 582.9,676.7 584,712.8 585.1,694.4 586.2,689.6 587.2,688.7 588.3,709.7 589.4,704.8 590.5,701.5 591.6,716.9 592.7,713.3 593.8,723.5 594.9,702.1 596,687.8 597,707.9 598.1,713.2 599.2,702.9 600.3,702 601.4,691.5 602.5,701.4 603.6,699.9 604.7,707.8 605.8,724.5 606.9,725 607.9,711 609,712.1 610.1,726.9 611.2,712.7 612.3,716.9 613.4,720.2 614.5,722.1 615.6,738 616.7,747.5 617.7,746.4 618.8,734.1 619.9,738.4 621,755.2 622.1,761.3 623.2,756.3 624.3,760.1 625.4,760.6 626.5,761.2 627.6,763.7 628.6,766.1 629.7,769.5 630.8,767.7 631.9,754.3 633,763.1 634.1,772.2 635.2,773.6 636.3,776.2 637.4,762.5 638.5,767.7 639.5,768.6 640.6,773 641.7,767.1 642.8,768.5 643.9,767.4 645,768.7 646.1,766.7 647.2,773.4 648.3,757.4 649.3,770.7 650.4,768.6 651.5,772.8 652.6,776.9 653.7,771.5 654.8,778.5 655.9,773.3 657,777.2 658.1,776 659.2,771.9 660.2,777.6 661.3,766.5 662.4,767.9 663.5,768.7 664.6,767.7 665.7,770.3 666.8,781.4 667.9,775.8 669,780 670,778.1 671.1,786.4 672.2,780.3 673.3,779.9 674.4,788.5 675.5,774.3 676.6,775.2 677.7,776.2 678.8,773.6 679.9,778.9 680.9,780.3 682,784.8 683.1,767.9 684.2,782.3 685.3,778 685.3,819.2" fill="#EE9A49"/>
<polygon points="423.8,780.2 424.9,781.1 426,777.7 427.1,778 428.2,790.8 429.2,777.4 430.3,779.2 431.4,777.7 432.5,790.7 433.6,776.2 434.7,776 435.8,781.6 436.9,777.4 438,775 439.1,783.5 440.1,771.9 441.2,773.1 442.3,781.4 443.4,779.1 444.5,787.7 445.6,782.7 446.7,781.1 447.8,785.3 448.9,774.1 450,768 451,777.7 452.1,773.8 453.2,790.9 454.3,777.8 455.4,781.2 456.5,787 457.6,778.1 458.7,778.7 459.8,782.8 460.8,780.9 461.9,786.3 463,780.7 464.1,783.5 465.2,782.1 466.3,784.4 467.4,786 468.5,787.4 469.6,791.3 470.7,794.5 471.7,800.2 472.8,786.3 473.9,781.6 475,790.1 476.1,783.8 477.2,763.4 478.3,776.6 479.4,779.3 480.5,774.2 481.5,780.3 482.6,771 483.7,767.7 484.8,754.1 485.9,754.8 487,743.6 488.1,745.5 489.2,734.8 490.3,759.4 491.4,725.2 492.4,713.7 493.5,721.6 494.6,718.6 495.7,710.3 496.8,721.7 497.9,714 499,710.4 500.1,740.7 501.2,710.6 502.3,707.1 503.3,708.8 504.4,716 505.5,688.1 506.6,717.7 507.7,699.7 508.8,713 509.9,691.8 511,674.1 512.1,687.9 513.1,692.6 514.2,692.3 515.3,693.3 516.4,683.5 517.5,668.2 518.6,668.1 519.7,682.3 520.8,686.3 521.9,666.5 523,686.5 524,686.4 525.1,679.1 526.2,680.1 527.3,686 528.4,690.1 529.5,695.1 530.6,690.7 531.7,695.9 532.8,693.7 533.8,677.6 534.9,682 536,699.4 537.1,678.2 538.2,672.2 539.3,677.8 540.4,716.5 541.5,692.7 542.6,673.7 543.7,707.6 544.7,688.1 545.8,677.3 546.9,698.7 548,691.3 549.1,672.6 550.2,687.5 551.3,679.3 552.4,697.2 553.5,704.9 554.6,723.9 555.6,687.9 556.7,675.5 557.8,695.1 558.9,684.9 560,679.4 561.1,677.1 562.2,677.7 563.3,675.1 564.4,664.2 565.4,676 566.5,680.7 567.6,689.2 568.7,681.1 569.8,697.3 570.9,674.8 572,686.9 573.1,672.1 574.2,685.1 575.3,699 576.3,687 577.4,681.5 578.5,692.9 579.6,689.8 580.7,679.5 581.8,691 582.9,668.9 584,703.1 585.1,684.5 586.2,683.6 587.2,677 588.3,699.7 589.4,694.1 590.5,693.2 591.6,710.4 592.7,704 593.8,714.4 594.9,692.1 596,675.8 597,702.8 598.1,708.7 599.2,693.8 600.3,695.8 601.4,681.6 602.5,694.2 603.6,691 604.7,701.5 605.8,719.5 606.9,719.8 607.9,702.2 609,703.1 610.1,722.7 611.2,704.6 612.3,707 613.4,710.9 614.5,717.6 615.6,731.7 616.7,740.5 617.7,740 618.8,727.5 619.9,733.4 621,751.9 622.1,756.7 623.2,750.8 624.3,755.1 625.4,756.8 626.5,755 627.6,759.4 628.6,762.6 629.7,764.5 630.8,763.1 631.9,748.2 633,759.4 634.1,768.9 635.2,771 636.3,774.1 637.4,759.8 638.5,762.3 639.5,763.4 640.6,768.7 641.7,764.3 642.8,765.4 643.9,762.4 645,766.3 646.1,762 647.2,771.1 648.3,752 649.3,767.6 650.4,763.5 651.5,768.7 652.6,773.9 653.7,767 654.8,776.2 655.9,770.9 657,773.9 658.1,772 659.2,767.4 660.2,772.8 661.3,763.3 662.4,764.3 663.5,765.2 664.6,764.9 665.7,767.4 666.8,779 667.9,773.6 669,775.7 670,775.5 671.1,783.8 672.2,775.9 673.3,775.3 674.4,784.7 675.5,769.7 676.6,771.1 677.7,771.5 678.8,768.5 679.9,774.4 680.9,777.2 682,781 683.1,764.4 684.2,780.3 685.3,774.6 685.3,781 684.2,785.3 683.1,771.8 682,787.2 680.9,784.9 679.9,783.4 678.8,777.9 677.7,780.7 676.6,779.9 675.5,778.1 674.4,792 673.3,782.8 672.2,782.5 671.1,789.4 670,780.9 669,784.7 667.9,778.6 666.8,783.4 665.7,773.5 664.6,771.2 663.5,772.5 662.4,773.2 661.3,770.7 660.2,782.4 659.2,775.7 658.1,780 657,780.3 655.9,777.6 654.8,782.9 653.7,776.3 652.6,779.1 651.5,776.5 650.4,773.6 649.3,773.1 648.3,760.9 647.2,778.6 646.1,769.4 645,771.7 643.9,770.6 642.8,771.2 641.7,770.5 640.6,777.4 639.5,773.1 638.5,772.2 637.4,766.9 636.3,780.2 635.2,777.2 634.1,774.5 633,766.8 631.9,757.6 630.8,771 629.7,772.7 628.6,771.6 627.6,768.2 626.5,766.9 625.4,765 624.3,763.2 623.2,760.3 622.1,767 621,761.8 619.9,745.9 618.8,741.2 617.7,752.2 616.7,754.3 615.6,744.4 614.5,729.3 613.4,726.5 612.3,725.5 611.2,722.4 610.1,732.3 609,717.4 607.9,720.1 606.9,732.8 605.8,732.8 604.7,717 603.6,708.5 602.5,706.8 601.4,700.1 600.3,712.2 599.2,710.6 598.1,718.4 597,713.2 596,695.6 594.9,710.3 593.8,732 592.7,720 591.6,724.7 590.5,710.5 589.4,714.2 588.3,716 587.2,697.4 586.2,697.7 585.1,703.5 584,722.6 582.9,689.4 581.8,704.5 580.7,700.2 579.6,703.8 578.5,709.4 577.4,697.3 576.3,699.1 575.3,714.2 574.2,699.9 573.1,688.8 572,705.5 570.9,693.6 569.8,715.3 568.7,693.9 567.6,707.7 566.5,694.7 565.4,698.1 564.4,679.7 563.3,689.1 562.2,701.8 561.1,692.6 560,699 558.9,698.3 557.8,712.2 556.7,693.1 555.6,708.1 554.6,737.8 553.5,720.4 552.4,708.4 551.3,698.8 550.2,700.2 549.1,692.1 548,706.8 546.9,712.9 545.8,695.7 544.7,709.5 543.7,718.7 542.6,695.7 541.5,704.8 540.4,730.4 539.3,696.2 538.2,689.3 537.1,693.6 536,712.5 534.9,695.7 533.8,698 532.8,710.8 531.7,712.6 530.6,707.2 529.5,705.7 528.4,706.1 527.3,705.1 526.2,692.9 525.1,697.3 524,704.3 523,707.9 521.9,687 520.8,704.5 519.7,695.8 518.6,688.7 517.5,687.3 516.4,700 515.3,710 514.2,705.8 513.1,708.4 512.1,707.3 511,690.7 509.9,706.5 508.8,725.3 507.7,714.2 506.6,730.4 505.5,707.7 504.4,728.3 503.3,721.4 502.3,722.2 501.2,726.4 500.1,749.3 499,726.9 497.9,729.1 496.8,736 495.7,725.6 494.6,733 493.5,737.9 492.4,727 491.4,741.5 490.3,766.2 489.2,746.9 488.1,757.1 487,756.6 485.9,763.1 484.8,764.6 483.7,772.8 482.6,778.5 481.5,785.4 480.5,782.6 479.4,786.6 478.3,784.1 477.2,773.1 476.1,789.5 475,796.3 473.9,787.7 472.8,791.7 471.7,804.3 470.7,798.6 469.6,795.8 468.5,792.8 467.4,792.5 466.3,789.7 465.2,788.1 464.1,788.7 463,787.5 461.9,792.7 460.8,788.6 459.8,789.4 458.7,786 457.6,783.9 456.5,793.7 455.4,789 454.3,784.7 453.2,795.1 452.1,782.5 451,784 450,777.7 448.9,781.1 447.8,790.1 446.7,787.2 445.6,789.1 444.5,791.8 443.4,785.4 442.3,786.1 441.2,780.4 440.1,779.4 439.1,789.2 438,781.1 436.9,784.3 435.8,786.3 434.7,784.2 433.6,783.4 432.5,795.4 431.4,783.5 430.3,784.9 429.2,782.6 428.2,796.5 427.1,784.4 426,782.8 424.9,786.5 423.8,787.9" fill="#000" fill-opacity="0.68" stroke="#000" stroke-width="0.5"/>
<polyline points="423.8,784 424.9,784.3 426,780.4 427.1,780.1 428.2,793.4 429.2,779.7 430.3,781.3 431.4,781.2 432.5,792.4 433.6,779.5 434.7,779.7 435.8,784.1 436.9,781.7 438,778.2 439.1,785.6 440.1,775 441.2,776.1 442.3,784.1 443.4,782.6 444.5,789.6 445.6,786.4 446.7,785.3 447.8,787.2 448.9,778.4 450,772.6 451,781.9 452.1,777.6 453.2,792.6 454.3,781 455.4,784.9 456.5,790.7 457.6,781.1 458.7,781.5 459.8,786.2 460.8,785 461.9,789.2 463,784.1 464.1,785.7 465.2,784 466.3,787.5 467.4,789.9 468.5,790.2 469.6,793.3 470.7,796.6 471.7,802.7 472.8,789.4 473.9,784.6 475,793.1 476.1,786.1 477.2,768.8 478.3,779.5 479.4,783.6 480.5,778 481.5,782.5 482.6,774.3 483.7,770.1 484.8,759.5 485.9,757.9 487,750.7 488.1,750 489.2,739.4 490.3,763.2 491.4,732.9 492.4,720 493.5,729.8 494.6,726.3 495.7,715.9 496.8,727.6 497.9,719.4 499,719.3 500.1,745 501.2,716.5 502.3,715.7 503.3,716.9 504.4,721.2 505.5,699.1 506.6,724.9 507.7,707.8 508.8,718.5 509.9,698.2 511,684.4 512.1,695.7 513.1,701 514.2,698.2 515.3,700.4 516.4,692.6 517.5,679.3 518.6,679 519.7,688.4 520.8,695.1 521.9,677.2 523,697.1 524,694 525.1,690 526.2,685.5 527.3,695 528.4,696.2 529.5,700.3 530.6,698.9 531.7,702.6 532.8,700.3 533.8,687.3 534.9,689.2 536,706.2 537.1,686.1 538.2,681.8 539.3,689.7 540.4,721.2 541.5,699.7 542.6,684.2 543.7,713.7 544.7,698.8 545.8,684.7 546.9,704.5 548,697.1 549.1,683.2 550.2,693 551.3,688.3 552.4,702.1 553.5,712.6 554.6,729.4 555.6,697 556.7,686.9 557.8,705.1 558.9,691.8 560,687 561.1,683.7 562.2,689.9 563.3,681.5 564.4,670.5 565.4,688.1 566.5,686.6 567.6,696 568.7,686.8 569.8,707.6 570.9,684 572,697.9 573.1,682.4 574.2,694.1 575.3,706.2 576.3,693.9 577.4,692.2 578.5,699.3 579.6,695.3 580.7,688.8 581.8,697.2 582.9,676.7 584,712.8 585.1,694.4 586.2,689.6 587.2,688.7 588.3,709.7 589.4,704.8 590.5,701.5 591.6,716.9 592.7,713.3 593.8,723.5 594.9,702.1 596,687.8 597,707.9 598.1,713.2 599.2,702.9 600.3,702 601.4,691.5 602.5,701.4 603.6,699.9 604.7,707.8 605.8,724.5 606.9,725 607.9,711 609,712.1 610.1,726.9 611.2,712.7 612.3,716.9 613.4,720.2 614.5,722.1 615.6,738 616.7,747.5 617.7,746.4 618.8,734.1 619.9,738.4 621,755.2 622.1,761.3 623.2,756.3 624.3,760.1 625.4,760.6 626.5,761.2 627.6,763.7 628.6,766.1 629.7,769.5 630.8,767.7 631.9,754.3 633,763.1 634.1,772.2 635.2,773.6 636.3,776.2 637.4,762.5 638.5,767.7 639.5,768.6 640.6,773 641.7,767.1 642.8,768.5 643.9,767.4 645,768.7 646.1,766.7 647.2,773.4 648.3,757.4 649.3,770.7 650.4,768.6 651.5,772.8 652.6,776.9 653.7,771.5 654.8,778.5 655.9,773.3 657,777.2 658.1,776 659.2,771.9 660.2,777.6 661.3,766.5 662.4,767.9 663.5,768.7 664.6,767.7 665.7,770.3 666.8,781.4 667.9,775.8 669,780 670,778.1 671.1,786.4 672.2,780.3 673.3,779.9 674.4,788.5 675.5,774.3 676.6,775.2 677.7,776.2 678.8,773.6 679.9,778.9 680.9,780.3 682,784.8 683.1,767.9 684.2,782.3 685.3,778" fill="none" stroke="#000" stroke-width="1.3" stroke-linejoin="round"/>
<line x1="410.6" y1="633.3" x2="410.6" y2="828.7" stroke="#000" stroke-width="1.4"/>
<line x1="409.9" y1="828" x2="698.4" y2="828" stroke="#000" stroke-width="1.8"/>
<line x1="407.2" y1="819.2" x2="410.6" y2="819.2" stroke="#000" stroke-width="1.2"/>
<text x="404.4" y="822.9" text-anchor="end" class="tk">0</text>
<line x1="407.2" y1="775" x2="410.6" y2="775" stroke="#000" stroke-width="1.2"/>
<text x="404.4" y="778.7" text-anchor="end" class="tk">50</text>
<line x1="407.2" y1="730.8" x2="410.6" y2="730.8" stroke="#000" stroke-width="1.2"/>
<text x="404.4" y="734.5" text-anchor="end" class="tk">100</text>
<line x1="407.2" y1="686.5" x2="410.6" y2="686.5" stroke="#000" stroke-width="1.2"/>
<text x="404.4" y="690.2" text-anchor="end" class="tk">150</text>
<line x1="407.2" y1="642.3" x2="410.6" y2="642.3" stroke="#000" stroke-width="1.2"/>
<text x="404.4" y="646" text-anchor="end" class="tk">200</text>
<line x1="423.5" y1="828" x2="423.5" y2="831.5" stroke="#000" stroke-width="1.2"/>
<text transform="translate(428.8,840.3) rotate(-45)" text-anchor="end" class="tk" style="font-size:10.5px">0:00</text>
<line x1="488.9" y1="828" x2="488.9" y2="831.5" stroke="#000" stroke-width="1.2"/>
<text transform="translate(494.2,840.3) rotate(-45)" text-anchor="end" class="tk" style="font-size:10.5px">6:00</text>
<line x1="554.3" y1="828" x2="554.3" y2="831.5" stroke="#000" stroke-width="1.2"/>
<text transform="translate(559.6,840.3) rotate(-45)" text-anchor="end" class="tk" style="font-size:10.5px">12:00</text>
<line x1="619.6" y1="828" x2="619.6" y2="831.5" stroke="#000" stroke-width="1.2"/>
<text transform="translate(624.9,840.3) rotate(-45)" text-anchor="end" class="tk" style="font-size:10.5px">18:00</text>
<line x1="685" y1="828" x2="685" y2="831.5" stroke="#000" stroke-width="1.2"/>
<text transform="translate(690.3,840.3) rotate(-45)" text-anchor="end" class="tk" style="font-size:10.5px">24:00</text>
<text x="554.4" y="622.8" text-anchor="middle" class="ti">Colony 2 - Yellow marmalade bee</text>
<text x="554.4" y="875.1" text-anchor="middle" class="ax">Time (h)</text>
<text transform="translate(380,730.4) rotate(-90)" text-anchor="middle" class="ax" style="font-size:15.45px">Average count</text>
<text x="357.8" y="608.7" class="lb">F</text>
</svg>
</body></html>
